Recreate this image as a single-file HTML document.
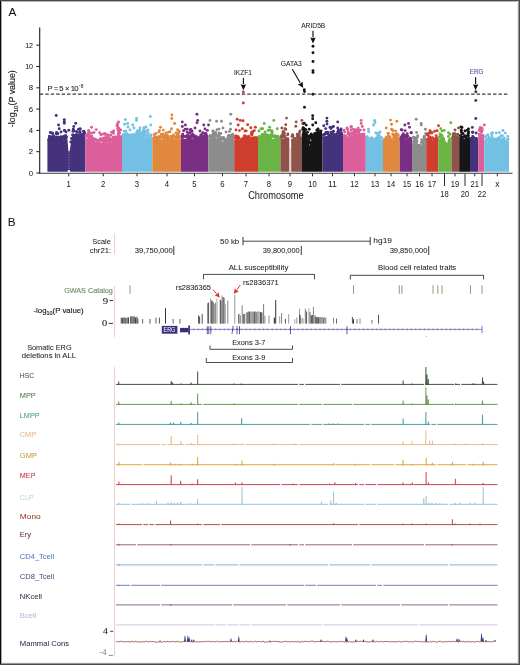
<!DOCTYPE html>
<html><head><meta charset="utf-8"><style>
html,body{margin:0;padding:0;background:#fff;}
svg{display:block;font-family:"Liberation Sans", sans-serif;}
</style></head><body>
<svg width="520" height="665" viewBox="0 0 520 665">
<rect width="520" height="665" fill="#fff"/>
<defs><filter id="soft" filterUnits="userSpaceOnUse" x="0" y="0" width="520" height="665"><feGaussianBlur stdDeviation="0.3"/></filter></defs>
<g filter="url(#soft)">
<rect width="520" height="665" fill="#fff"/>
<g fill="#45307d"><path d="M47.4,171.7 L47.4,140.2 L48.3,138.5 L49.2,139.3 L50.1,137.3 L51.0,138.9 L51.9,138.3 L52.8,137.3 L53.7,138.8 L54.6,137.2 L55.5,138.6 L56.4,137.3 L57.4,137.4 L58.3,138.5 L59.2,139.9 L60.1,137.5 L61.0,137.9 L61.9,139.2 L62.8,140.3 L63.7,139.1 L64.6,138.4 L65.5,140.4 L66.4,137.3 L67.3,140.0 L68.2,137.9 L69.1,137.0 L70.0,136.5 L70.9,137.1 L71.8,138.7 L72.7,136.5 L73.6,137.8 L74.5,137.9 L75.4,136.9 L76.4,137.5 L77.3,135.7 L78.2,135.6 L79.1,136.1 L80.0,137.6 L80.9,136.7 L81.8,136.3 L82.7,137.2 L83.6,136.7 L84.5,136.2 L85.4,137.8 L85.4,171.7 Z"/><circle cx="48.6" cy="139.6" r="1.45"/><circle cx="50.0" cy="138.8" r="1.45"/><circle cx="51.8" cy="139.5" r="1.45"/><circle cx="53.7" cy="138.2" r="1.45"/><circle cx="55.9" cy="137.8" r="1.45"/><circle cx="57.5" cy="139.2" r="1.45"/><circle cx="58.8" cy="138.6" r="1.45"/><circle cx="60.1" cy="139.0" r="1.45"/><circle cx="62.1" cy="138.8" r="1.45"/><circle cx="64.1" cy="138.2" r="1.45"/><circle cx="66.0" cy="138.9" r="1.45"/><circle cx="67.8" cy="138.5" r="1.45"/><circle cx="69.8" cy="138.7" r="1.45"/><circle cx="71.5" cy="137.9" r="1.45"/><circle cx="72.8" cy="137.9" r="1.45"/><circle cx="74.6" cy="138.4" r="1.45"/><circle cx="76.6" cy="136.6" r="1.45"/><circle cx="78.2" cy="137.4" r="1.45"/><circle cx="79.5" cy="136.8" r="1.45"/><circle cx="80.8" cy="135.9" r="1.45"/><circle cx="82.1" cy="137.4" r="1.45"/><circle cx="83.4" cy="136.1" r="1.45"/><circle cx="79.8" cy="135.8" r="1.45"/><circle cx="64.6" cy="136.0" r="1.45"/><circle cx="80.2" cy="132.1" r="1.45"/><circle cx="79.5" cy="135.3" r="1.45"/><circle cx="63.4" cy="136.8" r="1.45"/><circle cx="80.2" cy="128.7" r="1.45"/><circle cx="53.8" cy="137.4" r="1.45"/><circle cx="56.8" cy="137.2" r="1.45"/><circle cx="65.9" cy="135.8" r="1.45"/><circle cx="57.9" cy="137.8" r="1.45"/><circle cx="63.5" cy="136.7" r="1.45"/><circle cx="68.8" cy="130.3" r="1.45"/><circle cx="73.3" cy="134.9" r="1.45"/><circle cx="70.6" cy="134.1" r="1.45"/><circle cx="50.3" cy="132.5" r="1.45"/><circle cx="76.5" cy="131.5" r="1.45"/><circle cx="77.1" cy="135.1" r="1.45"/><circle cx="62.8" cy="137.5" r="1.45"/><circle cx="71.2" cy="136.5" r="1.45"/><circle cx="50.8" cy="137.3" r="1.45"/><circle cx="54.2" cy="136.8" r="1.45"/><circle cx="50.3" cy="137.8" r="1.45"/><circle cx="53.8" cy="137.6" r="1.45"/><circle cx="61.5" cy="137.7" r="1.45"/><circle cx="79.9" cy="133.8" r="1.45"/><circle cx="53.7" cy="137.1" r="1.45"/><circle cx="60.9" cy="136.8" r="1.45"/><circle cx="52.8" cy="133.5" r="1.45"/><circle cx="84.2" cy="134.4" r="1.45"/><circle cx="65.8" cy="137.6" r="1.45"/><circle cx="52.1" cy="136.8" r="1.45"/><circle cx="57.9" cy="133.7" r="1.45"/><circle cx="54.2" cy="137.7" r="1.45"/><circle cx="82.6" cy="134.2" r="1.45"/><circle cx="53.7" cy="136.0" r="1.45"/><circle cx="49.4" cy="136.1" r="1.45"/><circle cx="83.6" cy="131.3" r="1.45"/><circle cx="73.5" cy="135.8" r="1.45"/><circle cx="61.6" cy="137.4" r="1.45"/><circle cx="76.2" cy="134.6" r="1.45"/><circle cx="76.4" cy="135.4" r="1.45"/><circle cx="56.4" cy="134.0" r="1.45"/><circle cx="83.9" cy="131.5" r="1.45"/><circle cx="77.4" cy="132.3" r="1.45"/><circle cx="75.0" cy="135.8" r="1.45"/><circle cx="67.0" cy="136.8" r="1.45"/><circle cx="49.4" cy="137.7" r="1.45"/><circle cx="58.5" cy="137.1" r="1.45"/><circle cx="73.3" cy="129.3" r="1.45"/><circle cx="56.2" cy="115.5" r="1.45"/><circle cx="64.3" cy="119.6" r="1.45"/><circle cx="64.3" cy="121.5" r="1.45"/><circle cx="64.3" cy="123.2" r="1.45"/><circle cx="58.5" cy="125" r="1.45"/><circle cx="59.2" cy="128.8" r="1.45"/><circle cx="64.6" cy="130.4" r="1.45"/><circle cx="75.7" cy="123.2" r="1.45"/><circle cx="73.8" cy="126.5" r="1.45"/><circle cx="78.5" cy="129.3" r="1.45"/><circle cx="80" cy="129.6" r="1.45"/><circle cx="73" cy="131.2" r="1.45"/><circle cx="84.6" cy="132.7" r="1.45"/><circle cx="56.6" cy="132.4" r="1.45"/><circle cx="52" cy="133" r="1.45"/><circle cx="61" cy="132" r="1.45"/></g>
<g fill="#dc5f9b"><path d="M85.4,171.7 L85.4,135.6 L86.3,138.3 L87.2,139.6 L88.1,140.4 L89.1,138.6 L90.0,138.4 L90.9,138.7 L91.8,138.9 L92.7,139.1 L93.6,140.8 L94.6,142.0 L95.5,142.0 L96.4,140.9 L97.3,141.5 L98.2,142.1 L99.1,139.8 L100.0,141.8 L101.0,142.8 L101.9,142.4 L102.8,142.4 L103.7,141.6 L104.6,140.7 L105.5,142.7 L106.4,141.0 L107.4,142.5 L108.3,142.9 L109.2,140.8 L110.1,140.7 L111.0,142.5 L111.9,141.6 L112.8,139.0 L113.8,138.2 L114.7,137.6 L115.6,139.5 L116.5,136.8 L117.4,130.9 L118.3,129.6 L119.3,133.0 L120.2,135.4 L121.1,134.8 L122.0,136.0 L122.0,171.7 Z"/><circle cx="86.6" cy="136.2" r="1.45"/><circle cx="87.8" cy="139.5" r="1.45"/><circle cx="89.7" cy="139.2" r="1.45"/><circle cx="91.8" cy="139.6" r="1.45"/><circle cx="93.9" cy="141.1" r="1.45"/><circle cx="95.3" cy="140.1" r="1.45"/><circle cx="96.8" cy="140.2" r="1.45"/><circle cx="98.6" cy="140.5" r="1.45"/><circle cx="100.2" cy="140.3" r="1.45"/><circle cx="102.3" cy="141.0" r="1.45"/><circle cx="103.9" cy="141.7" r="1.45"/><circle cx="106.1" cy="141.3" r="1.45"/><circle cx="108.2" cy="141.2" r="1.45"/><circle cx="109.9" cy="141.0" r="1.45"/><circle cx="111.1" cy="140.6" r="1.45"/><circle cx="112.5" cy="139.1" r="1.45"/><circle cx="114.5" cy="138.0" r="1.45"/><circle cx="116.2" cy="137.5" r="1.45"/><circle cx="117.9" cy="129.5" r="1.45"/><circle cx="119.7" cy="133.1" r="1.45"/><circle cx="90.1" cy="136.5" r="1.45"/><circle cx="95.0" cy="139.1" r="1.45"/><circle cx="113.1" cy="137.3" r="1.45"/><circle cx="105.8" cy="137.4" r="1.45"/><circle cx="118.0" cy="127.6" r="1.45"/><circle cx="107.6" cy="138.8" r="1.45"/><circle cx="104.1" cy="138.0" r="1.45"/><circle cx="102.1" cy="138.8" r="1.45"/><circle cx="102.9" cy="134.1" r="1.45"/><circle cx="110.6" cy="135.2" r="1.45"/><circle cx="119.0" cy="128.4" r="1.45"/><circle cx="105.8" cy="134.1" r="1.45"/><circle cx="115.5" cy="136.9" r="1.45"/><circle cx="90.6" cy="137.2" r="1.45"/><circle cx="88.9" cy="137.4" r="1.45"/><circle cx="88.9" cy="135.5" r="1.45"/><circle cx="113.5" cy="133.4" r="1.45"/><circle cx="91.7" cy="136.0" r="1.45"/><circle cx="109.2" cy="139.8" r="1.45"/><circle cx="116.9" cy="125.5" r="1.45"/><circle cx="94.0" cy="132.5" r="1.45"/><circle cx="100.2" cy="138.8" r="1.45"/><circle cx="120.6" cy="130.0" r="1.45"/><circle cx="92.0" cy="137.6" r="1.45"/><circle cx="104.2" cy="139.8" r="1.45"/><circle cx="93.2" cy="138.4" r="1.45"/><circle cx="111.4" cy="139.8" r="1.45"/><circle cx="105.6" cy="139.4" r="1.45"/><circle cx="87.0" cy="135.7" r="1.45"/><circle cx="108.0" cy="138.7" r="1.45"/><circle cx="88.6" cy="130.5" r="1.45"/><circle cx="113.7" cy="131.0" r="1.45"/><circle cx="90.0" cy="137.7" r="1.45"/><circle cx="87.8" cy="134.1" r="1.45"/><circle cx="95.8" cy="139.6" r="1.45"/><circle cx="101.0" cy="134.8" r="1.45"/><circle cx="114.7" cy="137.1" r="1.45"/><circle cx="91.6" cy="133.0" r="1.45"/><circle cx="106.1" cy="137.9" r="1.45"/><circle cx="89.5" cy="138.1" r="1.45"/><circle cx="110.2" cy="138.8" r="1.45"/><circle cx="88.9" cy="131.7" r="1.45"/><circle cx="108.4" cy="136.6" r="1.45"/><circle cx="89.3" cy="133.7" r="1.45"/><circle cx="88.7" cy="133.4" r="1.45"/><circle cx="102.1" cy="139.6" r="1.45"/><circle cx="105.5" cy="134.7" r="1.45"/><circle cx="91.5" cy="127.3" r="1.45"/><circle cx="96.2" cy="129.6" r="1.45"/><circle cx="99.7" cy="132.7" r="1.45"/><circle cx="104.6" cy="133.5" r="1.45"/><circle cx="111.5" cy="132.4" r="1.45"/><circle cx="117.7" cy="123.5" r="1.45"/><circle cx="118.5" cy="122" r="1.45"/><circle cx="117.5" cy="126" r="1.45"/><circle cx="118" cy="129" r="1.45"/><circle cx="112.3" cy="132" r="1.45"/><circle cx="119" cy="131" r="1.45"/><circle cx="89" cy="133" r="1.45"/><circle cx="108" cy="135" r="1.45"/></g>
<g fill="#72c0e4"><path d="M122.0,171.7 L122.0,135.5 L122.9,135.0 L123.8,136.4 L124.8,135.4 L125.7,135.0 L126.6,135.1 L127.5,134.8 L128.4,135.3 L129.3,135.7 L130.3,135.6 L131.2,137.2 L132.1,135.6 L133.0,136.3 L133.9,135.2 L134.9,135.8 L135.8,134.7 L136.7,135.5 L137.6,134.7 L138.5,137.1 L139.4,136.5 L140.4,135.2 L141.3,136.2 L142.2,137.8 L143.1,135.0 L144.0,137.4 L145.0,136.1 L145.9,136.3 L146.8,137.4 L147.7,135.9 L148.6,136.3 L149.5,136.9 L150.5,137.9 L151.4,135.8 L152.3,137.4 L152.3,171.7 Z"/><circle cx="123.2" cy="136.6" r="1.45"/><circle cx="125.0" cy="135.9" r="1.45"/><circle cx="126.6" cy="135.1" r="1.45"/><circle cx="127.9" cy="135.2" r="1.45"/><circle cx="129.9" cy="135.6" r="1.45"/><circle cx="131.2" cy="135.2" r="1.45"/><circle cx="133.3" cy="137.0" r="1.45"/><circle cx="135.1" cy="135.6" r="1.45"/><circle cx="136.6" cy="135.7" r="1.45"/><circle cx="138.2" cy="135.4" r="1.45"/><circle cx="139.9" cy="135.6" r="1.45"/><circle cx="142.0" cy="137.2" r="1.45"/><circle cx="143.8" cy="135.6" r="1.45"/><circle cx="146.0" cy="135.7" r="1.45"/><circle cx="147.5" cy="135.0" r="1.45"/><circle cx="149.1" cy="136.1" r="1.45"/><circle cx="150.8" cy="135.5" r="1.45"/><circle cx="123.1" cy="134.6" r="1.45"/><circle cx="125.5" cy="134.1" r="1.45"/><circle cx="124.2" cy="135.2" r="1.45"/><circle cx="131.6" cy="134.7" r="1.45"/><circle cx="139.6" cy="133.6" r="1.45"/><circle cx="144.2" cy="132.8" r="1.45"/><circle cx="143.3" cy="130.4" r="1.45"/><circle cx="134.0" cy="134.4" r="1.45"/><circle cx="150.9" cy="134.9" r="1.45"/><circle cx="143.5" cy="132.9" r="1.45"/><circle cx="124.2" cy="131.2" r="1.45"/><circle cx="148.2" cy="133.0" r="1.45"/><circle cx="143.8" cy="131.5" r="1.45"/><circle cx="126.9" cy="133.6" r="1.45"/><circle cx="137.3" cy="131.2" r="1.45"/><circle cx="145.8" cy="131.3" r="1.45"/><circle cx="139.5" cy="130.2" r="1.45"/><circle cx="142.3" cy="132.6" r="1.45"/><circle cx="129.5" cy="135.2" r="1.45"/><circle cx="126.8" cy="134.3" r="1.45"/><circle cx="126.0" cy="131.1" r="1.45"/><circle cx="138.8" cy="133.0" r="1.45"/><circle cx="140.7" cy="132.7" r="1.45"/><circle cx="136.8" cy="135.3" r="1.45"/><circle cx="145.6" cy="132.1" r="1.45"/><circle cx="137.2" cy="133.5" r="1.45"/><circle cx="141.7" cy="135.1" r="1.45"/><circle cx="143.9" cy="134.6" r="1.45"/><circle cx="125.1" cy="134.6" r="1.45"/><circle cx="143.6" cy="134.8" r="1.45"/><circle cx="143.9" cy="127.8" r="1.45"/><circle cx="137.0" cy="134.2" r="1.45"/><circle cx="136.6" cy="132.7" r="1.45"/><circle cx="144.7" cy="133.1" r="1.45"/><circle cx="141.2" cy="135.1" r="1.45"/><circle cx="127.2" cy="134.6" r="1.45"/><circle cx="144.0" cy="134.5" r="1.45"/><circle cx="139.1" cy="135.3" r="1.45"/><circle cx="124.7" cy="134.6" r="1.45"/><circle cx="125.4" cy="119.6" r="1.45"/><circle cx="136.5" cy="118.5" r="1.45"/><circle cx="136.5" cy="120.4" r="1.45"/><circle cx="150.3" cy="116.5" r="1.45"/><circle cx="132.8" cy="125" r="1.45"/><circle cx="150.8" cy="125" r="1.45"/><circle cx="124.6" cy="124.2" r="1.45"/><circle cx="127.7" cy="123.5" r="1.45"/><circle cx="128" cy="127" r="1.45"/><circle cx="140" cy="128" r="1.45"/><circle cx="144" cy="129" r="1.45"/><circle cx="148" cy="130" r="1.45"/><circle cx="130" cy="130" r="1.45"/><circle cx="134" cy="128" r="1.45"/><circle cx="138" cy="131" r="1.45"/><circle cx="146" cy="127" r="1.45"/></g>
<g fill="#e0883e"><path d="M152.3,171.7 L152.3,138.9 L153.2,139.0 L154.2,138.9 L155.1,137.6 L156.0,138.4 L156.9,138.2 L157.9,138.2 L158.8,137.0 L159.7,139.6 L160.6,137.3 L161.6,139.9 L162.5,139.8 L163.4,136.7 L164.3,138.2 L165.3,139.4 L166.2,139.9 L167.1,138.1 L168.0,137.5 L169.0,137.3 L169.9,139.8 L170.8,137.3 L171.7,138.6 L172.7,137.1 L173.6,138.4 L174.5,139.8 L175.4,137.1 L176.4,139.4 L177.3,138.3 L178.2,139.6 L179.1,139.0 L180.1,137.4 L181.0,139.7 L181.0,171.7 Z"/><circle cx="153.5" cy="138.1" r="1.45"/><circle cx="154.7" cy="137.0" r="1.45"/><circle cx="156.4" cy="138.0" r="1.45"/><circle cx="157.9" cy="137.3" r="1.45"/><circle cx="159.5" cy="137.7" r="1.45"/><circle cx="161.5" cy="137.0" r="1.45"/><circle cx="163.5" cy="138.9" r="1.45"/><circle cx="164.8" cy="139.1" r="1.45"/><circle cx="166.7" cy="139.1" r="1.45"/><circle cx="168.2" cy="137.9" r="1.45"/><circle cx="169.8" cy="139.3" r="1.45"/><circle cx="171.6" cy="137.8" r="1.45"/><circle cx="173.2" cy="137.6" r="1.45"/><circle cx="174.4" cy="137.2" r="1.45"/><circle cx="176.5" cy="137.7" r="1.45"/><circle cx="178.6" cy="137.6" r="1.45"/><circle cx="166.9" cy="136.8" r="1.45"/><circle cx="163.3" cy="130.1" r="1.45"/><circle cx="176.9" cy="133.5" r="1.45"/><circle cx="170.1" cy="131.7" r="1.45"/><circle cx="178.4" cy="135.5" r="1.45"/><circle cx="172.5" cy="137.2" r="1.45"/><circle cx="172.9" cy="135.9" r="1.45"/><circle cx="173.4" cy="134.9" r="1.45"/><circle cx="160.9" cy="137.2" r="1.45"/><circle cx="178.0" cy="137.0" r="1.45"/><circle cx="165.9" cy="136.3" r="1.45"/><circle cx="161.3" cy="134.2" r="1.45"/><circle cx="179.4" cy="136.6" r="1.45"/><circle cx="170.8" cy="136.5" r="1.45"/><circle cx="168.2" cy="136.1" r="1.45"/><circle cx="157.8" cy="136.9" r="1.45"/><circle cx="158.9" cy="131.9" r="1.45"/><circle cx="166.6" cy="136.7" r="1.45"/><circle cx="177.5" cy="129.8" r="1.45"/><circle cx="165.3" cy="137.0" r="1.45"/><circle cx="158.4" cy="137.1" r="1.45"/><circle cx="162.4" cy="137.1" r="1.45"/><circle cx="159.7" cy="136.6" r="1.45"/><circle cx="168.5" cy="132.3" r="1.45"/><circle cx="173.3" cy="136.1" r="1.45"/><circle cx="164.4" cy="135.6" r="1.45"/><circle cx="163.4" cy="136.4" r="1.45"/><circle cx="155.0" cy="136.6" r="1.45"/><circle cx="179.1" cy="137.0" r="1.45"/><circle cx="166.7" cy="135.0" r="1.45"/><circle cx="176.3" cy="136.7" r="1.45"/><circle cx="160.5" cy="136.6" r="1.45"/><circle cx="164.0" cy="135.9" r="1.45"/><circle cx="178.8" cy="133.0" r="1.45"/><circle cx="176.6" cy="137.2" r="1.45"/><circle cx="154.2" cy="134.5" r="1.45"/><circle cx="177.2" cy="135.8" r="1.45"/><circle cx="171.8" cy="115" r="1.45"/><circle cx="171.8" cy="118.5" r="1.45"/><circle cx="174.6" cy="123.5" r="1.45"/><circle cx="171.5" cy="128.8" r="1.45"/><circle cx="160.5" cy="127.3" r="1.45"/><circle cx="159.5" cy="130.4" r="1.45"/><circle cx="156" cy="133.5" r="1.45"/><circle cx="179.2" cy="131.2" r="1.45"/><circle cx="166" cy="133" r="1.45"/><circle cx="176" cy="133" r="1.45"/><circle cx="163" cy="134" r="1.45"/></g>
<g fill="#7a2e84"><path d="M181.0,171.7 L181.0,137.9 L181.9,135.9 L182.8,137.2 L183.8,139.1 L184.7,138.7 L185.6,138.8 L186.5,139.2 L187.4,136.7 L188.3,136.3 L189.2,136.4 L190.2,137.7 L191.1,138.2 L192.0,139.1 L192.9,138.4 L193.8,138.1 L194.8,138.5 L195.7,137.5 L196.6,137.8 L197.5,136.0 L198.4,138.6 L199.3,136.7 L200.2,139.0 L201.2,138.1 L202.1,136.9 L203.0,136.3 L203.9,136.8 L204.8,138.1 L205.8,138.3 L206.7,136.3 L207.6,136.1 L208.5,137.7 L208.5,171.7 Z"/><circle cx="182.2" cy="137.6" r="1.45"/><circle cx="183.8" cy="136.8" r="1.45"/><circle cx="185.6" cy="136.3" r="1.45"/><circle cx="187.1" cy="137.4" r="1.45"/><circle cx="189.2" cy="137.8" r="1.45"/><circle cx="191.3" cy="137.4" r="1.45"/><circle cx="192.8" cy="136.9" r="1.45"/><circle cx="194.9" cy="137.9" r="1.45"/><circle cx="196.4" cy="136.4" r="1.45"/><circle cx="198.1" cy="137.9" r="1.45"/><circle cx="199.8" cy="136.9" r="1.45"/><circle cx="201.6" cy="138.4" r="1.45"/><circle cx="203.0" cy="136.4" r="1.45"/><circle cx="204.6" cy="137.3" r="1.45"/><circle cx="206.5" cy="136.8" r="1.45"/><circle cx="200.8" cy="135.0" r="1.45"/><circle cx="187.2" cy="129.1" r="1.45"/><circle cx="189.9" cy="132.7" r="1.45"/><circle cx="187.9" cy="136.0" r="1.45"/><circle cx="201.4" cy="135.8" r="1.45"/><circle cx="206.3" cy="135.0" r="1.45"/><circle cx="186.8" cy="136.0" r="1.45"/><circle cx="192.6" cy="134.1" r="1.45"/><circle cx="206.2" cy="136.2" r="1.45"/><circle cx="192.0" cy="136.0" r="1.45"/><circle cx="206.8" cy="136.2" r="1.45"/><circle cx="183.3" cy="136.5" r="1.45"/><circle cx="192.0" cy="131.3" r="1.45"/><circle cx="204.5" cy="133.6" r="1.45"/><circle cx="207.4" cy="130.4" r="1.45"/><circle cx="190.4" cy="136.1" r="1.45"/><circle cx="205.9" cy="133.4" r="1.45"/><circle cx="182.8" cy="134.1" r="1.45"/><circle cx="191.7" cy="135.5" r="1.45"/><circle cx="190.5" cy="136.2" r="1.45"/><circle cx="182.1" cy="135.8" r="1.45"/><circle cx="191.0" cy="129.4" r="1.45"/><circle cx="185.2" cy="129.1" r="1.45"/><circle cx="187.3" cy="135.6" r="1.45"/><circle cx="203.0" cy="132.6" r="1.45"/><circle cx="193.0" cy="136.5" r="1.45"/><circle cx="194.1" cy="135.5" r="1.45"/><circle cx="205.4" cy="136.1" r="1.45"/><circle cx="191.3" cy="131.4" r="1.45"/><circle cx="182.8" cy="135.4" r="1.45"/><circle cx="202.7" cy="133.3" r="1.45"/><circle cx="183.0" cy="136.5" r="1.45"/><circle cx="183.6" cy="130.8" r="1.45"/><circle cx="188.6" cy="133.4" r="1.45"/><circle cx="204.9" cy="135.6" r="1.45"/><circle cx="196.9" cy="114.2" r="1.45"/><circle cx="197.7" cy="120.4" r="1.45"/><circle cx="197" cy="122.7" r="1.45"/><circle cx="182.3" cy="121.9" r="1.45"/><circle cx="203.8" cy="125" r="1.45"/><circle cx="208.5" cy="125" r="1.45"/><circle cx="182.3" cy="126.5" r="1.45"/><circle cx="185.4" cy="125" r="1.45"/><circle cx="195" cy="128" r="1.45"/><circle cx="190" cy="130" r="1.45"/><circle cx="200" cy="131" r="1.45"/><circle cx="205" cy="129" r="1.45"/><circle cx="187" cy="132" r="1.45"/></g>
<g fill="#8c8c8c"><path d="M208.5,171.7 L208.5,137.0 L209.4,139.2 L210.3,137.9 L211.3,136.6 L212.2,138.0 L213.1,136.5 L214.0,136.2 L214.9,135.1 L215.8,137.8 L216.8,138.6 L217.7,137.8 L218.6,139.0 L219.5,136.1 L220.4,137.2 L221.3,138.8 L222.3,141.2 L223.2,141.9 L224.1,140.7 L225.0,140.9 L225.9,140.8 L226.9,140.3 L227.8,141.0 L228.7,137.8 L229.6,139.1 L230.5,138.5 L231.4,138.6 L232.4,138.2 L233.3,137.4 L234.2,136.2 L234.2,171.7 Z"/><circle cx="209.7" cy="137.1" r="1.45"/><circle cx="211.3" cy="137.9" r="1.45"/><circle cx="212.5" cy="136.3" r="1.45"/><circle cx="214.5" cy="136.1" r="1.45"/><circle cx="215.8" cy="135.7" r="1.45"/><circle cx="217.5" cy="136.8" r="1.45"/><circle cx="219.7" cy="138.5" r="1.45"/><circle cx="221.9" cy="138.6" r="1.45"/><circle cx="223.2" cy="139.3" r="1.45"/><circle cx="224.9" cy="142.0" r="1.45"/><circle cx="226.5" cy="139.8" r="1.45"/><circle cx="228.1" cy="139.4" r="1.45"/><circle cx="230.0" cy="138.2" r="1.45"/><circle cx="232.0" cy="137.5" r="1.45"/><circle cx="229.4" cy="136.5" r="1.45"/><circle cx="222.9" cy="138.1" r="1.45"/><circle cx="227.0" cy="138.7" r="1.45"/><circle cx="215.4" cy="135.2" r="1.45"/><circle cx="213.1" cy="131.1" r="1.45"/><circle cx="223.2" cy="138.5" r="1.45"/><circle cx="218.9" cy="129.1" r="1.45"/><circle cx="221.5" cy="137.4" r="1.45"/><circle cx="228.7" cy="135.4" r="1.45"/><circle cx="233.0" cy="135.8" r="1.45"/><circle cx="220.8" cy="133.5" r="1.45"/><circle cx="229.4" cy="131.6" r="1.45"/><circle cx="210.5" cy="135.7" r="1.45"/><circle cx="212.3" cy="135.7" r="1.45"/><circle cx="232.6" cy="134.2" r="1.45"/><circle cx="231.5" cy="135.4" r="1.45"/><circle cx="230.0" cy="135.4" r="1.45"/><circle cx="215.7" cy="132.5" r="1.45"/><circle cx="231.9" cy="136.1" r="1.45"/><circle cx="223.6" cy="137.5" r="1.45"/><circle cx="214.7" cy="134.8" r="1.45"/><circle cx="212.9" cy="135.6" r="1.45"/><circle cx="215.5" cy="133.8" r="1.45"/><circle cx="224.9" cy="140.2" r="1.45"/><circle cx="209.8" cy="135.7" r="1.45"/><circle cx="225.6" cy="139.9" r="1.45"/><circle cx="216.9" cy="135.7" r="1.45"/><circle cx="228.3" cy="136.3" r="1.45"/><circle cx="211.0" cy="136.2" r="1.45"/><circle cx="218.9" cy="134.7" r="1.45"/><circle cx="224.6" cy="140.3" r="1.45"/><circle cx="213.4" cy="133.3" r="1.45"/><circle cx="219.2" cy="135.9" r="1.45"/><circle cx="230.8" cy="114.2" r="1.45"/><circle cx="210" cy="120.4" r="1.45"/><circle cx="216.6" cy="121.2" r="1.45"/><circle cx="221.5" cy="121.2" r="1.45"/><circle cx="230.5" cy="123.8" r="1.45"/><circle cx="230.5" cy="129.3" r="1.45"/><circle cx="217" cy="129.6" r="1.45"/><circle cx="223" cy="128" r="1.45"/><circle cx="213" cy="131" r="1.45"/><circle cx="226" cy="132" r="1.45"/><circle cx="219" cy="133" r="1.45"/></g>
<g fill="#cf3d2e"><path d="M234.2,171.7 L234.2,138.4 L235.1,140.6 L236.0,138.5 L236.9,139.3 L237.8,138.6 L238.7,138.8 L239.6,140.3 L240.5,140.8 L241.4,138.6 L242.3,138.1 L243.2,139.9 L244.1,138.1 L245.0,137.4 L245.9,140.5 L246.8,138.8 L247.7,140.2 L248.6,138.8 L249.5,140.4 L250.4,139.0 L251.3,138.0 L252.2,137.5 L253.1,139.3 L254.0,139.6 L254.9,140.5 L255.8,137.7 L256.7,139.5 L257.6,138.7 L258.5,139.1 L258.5,171.7 Z"/><circle cx="235.4" cy="138.1" r="1.45"/><circle cx="236.9" cy="139.0" r="1.45"/><circle cx="239.0" cy="138.1" r="1.45"/><circle cx="240.7" cy="139.7" r="1.45"/><circle cx="242.9" cy="138.3" r="1.45"/><circle cx="244.2" cy="140.0" r="1.45"/><circle cx="246.4" cy="138.9" r="1.45"/><circle cx="247.6" cy="139.9" r="1.45"/><circle cx="249.2" cy="139.9" r="1.45"/><circle cx="251.0" cy="139.7" r="1.45"/><circle cx="252.4" cy="139.6" r="1.45"/><circle cx="253.8" cy="138.7" r="1.45"/><circle cx="255.9" cy="139.7" r="1.45"/><circle cx="257.2" cy="138.3" r="1.45"/><circle cx="246.7" cy="137.0" r="1.45"/><circle cx="237.9" cy="137.4" r="1.45"/><circle cx="251.4" cy="132.9" r="1.45"/><circle cx="236.1" cy="136.2" r="1.45"/><circle cx="252.1" cy="138.0" r="1.45"/><circle cx="253.9" cy="137.8" r="1.45"/><circle cx="248.6" cy="136.3" r="1.45"/><circle cx="249.2" cy="137.3" r="1.45"/><circle cx="244.6" cy="136.1" r="1.45"/><circle cx="244.7" cy="135.6" r="1.45"/><circle cx="245.2" cy="136.8" r="1.45"/><circle cx="235.7" cy="135.9" r="1.45"/><circle cx="246.1" cy="137.5" r="1.45"/><circle cx="252.2" cy="134.6" r="1.45"/><circle cx="245.4" cy="137.6" r="1.45"/><circle cx="245.8" cy="137.8" r="1.45"/><circle cx="238.1" cy="136.8" r="1.45"/><circle cx="237.2" cy="136.8" r="1.45"/><circle cx="246.6" cy="138.0" r="1.45"/><circle cx="249.4" cy="137.9" r="1.45"/><circle cx="251.6" cy="134.6" r="1.45"/><circle cx="246.6" cy="138.0" r="1.45"/><circle cx="246.4" cy="137.0" r="1.45"/><circle cx="256.4" cy="137.8" r="1.45"/><circle cx="254.3" cy="130.6" r="1.45"/><circle cx="251.5" cy="134.2" r="1.45"/><circle cx="239.5" cy="130.6" r="1.45"/><circle cx="246.2" cy="130.9" r="1.45"/><circle cx="255.6" cy="137.7" r="1.45"/><circle cx="252.8" cy="132.0" r="1.45"/><circle cx="236.7" cy="137.1" r="1.45"/><circle cx="237.2" cy="119.2" r="1.45"/><circle cx="240.3" cy="120.4" r="1.45"/><circle cx="243" cy="120.7" r="1.45"/><circle cx="247.7" cy="124.7" r="1.45"/><circle cx="238.2" cy="125" r="1.45"/><circle cx="250.8" cy="127.8" r="1.45"/><circle cx="255.4" cy="127.3" r="1.45"/><circle cx="242.3" cy="128.8" r="1.45"/><circle cx="236" cy="130" r="1.45"/><circle cx="245" cy="131" r="1.45"/><circle cx="252" cy="132" r="1.45"/><circle cx="243.3" cy="92" r="1.45"/><circle cx="243.3" cy="103" r="1.45"/></g>
<g fill="#6cb444"><path d="M258.0,171.7 L258.0,138.7 L258.9,136.6 L259.9,139.1 L260.8,137.0 L261.7,138.9 L262.7,136.6 L263.6,137.8 L264.5,139.2 L265.5,136.8 L266.4,137.0 L267.3,137.8 L268.3,137.2 L269.2,136.2 L270.1,136.7 L271.1,136.6 L272.0,139.3 L272.9,138.4 L273.9,139.1 L274.8,136.7 L275.7,138.8 L276.7,136.5 L277.6,137.9 L278.5,138.3 L279.5,137.3 L280.4,139.1 L280.4,171.7 Z"/><circle cx="259.2" cy="137.8" r="1.45"/><circle cx="261.0" cy="138.5" r="1.45"/><circle cx="262.3" cy="138.8" r="1.45"/><circle cx="264.1" cy="137.4" r="1.45"/><circle cx="266.1" cy="137.1" r="1.45"/><circle cx="268.3" cy="137.8" r="1.45"/><circle cx="269.9" cy="138.3" r="1.45"/><circle cx="271.5" cy="136.9" r="1.45"/><circle cx="273.4" cy="136.6" r="1.45"/><circle cx="275.5" cy="137.1" r="1.45"/><circle cx="277.3" cy="138.8" r="1.45"/><circle cx="279.1" cy="138.0" r="1.45"/><circle cx="259.0" cy="136.7" r="1.45"/><circle cx="262.0" cy="134.6" r="1.45"/><circle cx="267.8" cy="135.1" r="1.45"/><circle cx="277.3" cy="136.5" r="1.45"/><circle cx="263.6" cy="134.4" r="1.45"/><circle cx="259.5" cy="136.8" r="1.45"/><circle cx="266.2" cy="136.5" r="1.45"/><circle cx="266.3" cy="136.2" r="1.45"/><circle cx="270.9" cy="134.8" r="1.45"/><circle cx="263.2" cy="134.6" r="1.45"/><circle cx="268.7" cy="136.5" r="1.45"/><circle cx="278.1" cy="136.2" r="1.45"/><circle cx="262.0" cy="136.6" r="1.45"/><circle cx="272.0" cy="132.1" r="1.45"/><circle cx="275.0" cy="135.6" r="1.45"/><circle cx="264.4" cy="136.8" r="1.45"/><circle cx="272.2" cy="134.9" r="1.45"/><circle cx="266.1" cy="134.4" r="1.45"/><circle cx="268.1" cy="130.4" r="1.45"/><circle cx="274.0" cy="136.1" r="1.45"/><circle cx="277.4" cy="136.7" r="1.45"/><circle cx="269.8" cy="135.6" r="1.45"/><circle cx="263.8" cy="136.7" r="1.45"/><circle cx="274.9" cy="136.8" r="1.45"/><circle cx="270.2" cy="130.3" r="1.45"/><circle cx="261.9" cy="136.3" r="1.45"/><circle cx="271.4" cy="135.2" r="1.45"/><circle cx="272.1" cy="132.9" r="1.45"/><circle cx="262.6" cy="135.9" r="1.45"/><circle cx="273.8" cy="120.4" r="1.45"/><circle cx="264.2" cy="123.5" r="1.45"/><circle cx="261.2" cy="128.8" r="1.45"/><circle cx="262.7" cy="128.8" r="1.45"/><circle cx="269.6" cy="127.3" r="1.45"/><circle cx="277.3" cy="128.8" r="1.45"/><circle cx="265" cy="132" r="1.45"/><circle cx="272" cy="131" r="1.45"/><circle cx="259" cy="131" r="1.45"/></g>
<g fill="#905248"><path d="M280.4,171.7 L280.4,136.6 L281.4,135.9 L282.4,138.8 L283.4,138.6 L284.4,138.5 L285.3,136.2 L286.3,139.1 L287.3,138.9 L288.3,138.1 L289.3,139.1 L289.3,171.7 Z"/><circle cx="281.6" cy="137.2" r="1.45"/><circle cx="283.0" cy="136.5" r="1.45"/><circle cx="284.5" cy="136.5" r="1.45"/><circle cx="286.0" cy="138.4" r="1.45"/><circle cx="287.9" cy="138.8" r="1.45"/><circle cx="283.2" cy="134.8" r="1.45"/><circle cx="284.4" cy="133.2" r="1.45"/><circle cx="285.0" cy="136.1" r="1.45"/><circle cx="285.8" cy="129.4" r="1.45"/><circle cx="282.9" cy="131.7" r="1.45"/><circle cx="281.5" cy="135.7" r="1.45"/><circle cx="283.0" cy="133.5" r="1.45"/><circle cx="287.9" cy="134.0" r="1.45"/><circle cx="283.7" cy="131.8" r="1.45"/><circle cx="283.7" cy="136.0" r="1.45"/><circle cx="287.7" cy="134.8" r="1.45"/><path d="M291.2,171.7 L291.2,141.0 L292.1,140.8 L293.1,141.7 L294.0,139.9 L295.0,141.1 L295.9,140.5 L296.9,141.0 L297.8,139.5 L298.8,140.3 L299.7,139.7 L300.7,138.7 L301.6,138.3 L301.6,171.7 Z"/><circle cx="292.4" cy="140.3" r="1.45"/><circle cx="293.7" cy="140.9" r="1.45"/><circle cx="295.0" cy="138.7" r="1.45"/><circle cx="296.3" cy="140.6" r="1.45"/><circle cx="297.9" cy="138.7" r="1.45"/><circle cx="299.1" cy="138.3" r="1.45"/><circle cx="297.5" cy="135.9" r="1.45"/><circle cx="298.4" cy="138.5" r="1.45"/><circle cx="297.2" cy="137.7" r="1.45"/><circle cx="299.1" cy="134.6" r="1.45"/><circle cx="299.7" cy="138.3" r="1.45"/><circle cx="299.5" cy="132.8" r="1.45"/><circle cx="300.1" cy="138.2" r="1.45"/><circle cx="293.9" cy="138.8" r="1.45"/><circle cx="292.5" cy="134.8" r="1.45"/><circle cx="299.0" cy="136.2" r="1.45"/><circle cx="299.1" cy="136.2" r="1.45"/><circle cx="294.6" cy="138.7" r="1.45"/><circle cx="293.0" cy="135.9" r="1.45"/><rect x="289.9" y="148.0" width="0.6" height="24" opacity="0.5"/><circle cx="286.5" cy="118.1" r="1.45"/><circle cx="285.8" cy="124.7" r="1.45"/><circle cx="296.2" cy="121.9" r="1.45"/><circle cx="295.8" cy="126.2" r="1.45"/><circle cx="301.9" cy="120.4" r="1.45"/><circle cx="302.7" cy="123.8" r="1.45"/><circle cx="281.9" cy="128" r="1.45"/><circle cx="285" cy="128.8" r="1.45"/><circle cx="292" cy="136.5" r="1.45"/><circle cx="297.3" cy="134.2" r="1.45"/><circle cx="300" cy="131" r="1.45"/></g>
<g fill="#161616"><path d="M301.6,171.7 L301.6,134.8 L302.5,131.0 L303.4,129.0 L304.3,127.7 L305.2,129.3 L306.1,132.8 L307.0,137.6 L307.9,139.2 L308.8,141.8 L309.7,146.0 L310.6,141.8 L311.5,140.3 L312.5,137.8 L313.4,135.0 L314.3,135.5 L315.2,134.8 L316.1,135.2 L317.0,133.8 L317.9,135.0 L318.8,134.4 L319.7,133.3 L320.6,135.5 L321.5,132.9 L322.4,135.4 L322.4,171.7 Z"/><circle cx="302.8" cy="129.3" r="1.45"/><circle cx="304.0" cy="128.5" r="1.45"/><circle cx="306.0" cy="133.9" r="1.45"/><circle cx="307.2" cy="137.1" r="1.45"/><circle cx="308.9" cy="143.1" r="1.45"/><circle cx="310.2" cy="142.8" r="1.45"/><circle cx="311.8" cy="139.0" r="1.45"/><circle cx="313.3" cy="137.6" r="1.45"/><circle cx="314.7" cy="134.6" r="1.45"/><circle cx="316.6" cy="134.1" r="1.45"/><circle cx="317.9" cy="134.5" r="1.45"/><circle cx="319.2" cy="134.8" r="1.45"/><circle cx="321.1" cy="134.8" r="1.45"/><circle cx="309.3" cy="141.7" r="1.45"/><circle cx="310.0" cy="137.5" r="1.45"/><circle cx="304.2" cy="123.3" r="1.45"/><circle cx="303.1" cy="127.8" r="1.45"/><circle cx="307.5" cy="132.2" r="1.45"/><circle cx="312.0" cy="135.7" r="1.45"/><circle cx="319.2" cy="132.7" r="1.45"/><circle cx="311.3" cy="137.2" r="1.45"/><circle cx="316.8" cy="130.1" r="1.45"/><circle cx="314.8" cy="133.4" r="1.45"/><circle cx="308.7" cy="140.8" r="1.45"/><circle cx="318.5" cy="130.8" r="1.45"/><circle cx="316.5" cy="132.9" r="1.45"/><circle cx="310.8" cy="136.7" r="1.45"/><circle cx="313.5" cy="135.2" r="1.45"/><circle cx="311.3" cy="133.9" r="1.45"/><circle cx="307.1" cy="135.5" r="1.45"/><circle cx="308.3" cy="136.9" r="1.45"/><circle cx="318.5" cy="132.9" r="1.45"/><circle cx="305.5" cy="129.6" r="1.45"/><circle cx="308.7" cy="139.5" r="1.45"/><circle cx="305.6" cy="129.7" r="1.45"/><circle cx="306.2" cy="125.1" r="1.45"/><circle cx="316.3" cy="133.1" r="1.45"/><circle cx="320.7" cy="133.1" r="1.45"/><circle cx="309.8" cy="135.6" r="1.45"/><circle cx="317.5" cy="130.3" r="1.45"/><circle cx="304.5" cy="107.3" r="1.45"/><circle cx="312.7" cy="115.8" r="1.45"/><circle cx="312.7" cy="118.8" r="1.45"/><circle cx="315.8" cy="122.7" r="1.45"/><circle cx="312.7" cy="125" r="1.45"/><circle cx="309.2" cy="129.3" r="1.45"/><circle cx="321" cy="131" r="1.45"/><circle cx="318" cy="129" r="1.45"/><circle cx="313" cy="46.2" r="1.45"/><circle cx="313" cy="52.8" r="1.45"/><circle cx="313" cy="61.5" r="1.45"/><circle cx="313" cy="70.6" r="1.45"/><circle cx="313" cy="72.4" r="1.45"/><circle cx="312.9" cy="94.2" r="1.45"/><circle cx="304.3" cy="89.8" r="1.45"/><circle cx="304.5" cy="91.6" r="1.45"/></g>
<g fill="#45307d"><path d="M322.4,171.7 L322.4,137.1 L323.3,136.2 L324.3,137.6 L325.2,135.8 L326.1,136.1 L327.1,136.6 L328.0,135.3 L329.0,136.5 L329.9,137.8 L330.8,137.0 L331.8,135.9 L332.7,135.9 L333.6,134.9 L334.6,133.3 L335.5,134.4 L336.4,133.4 L337.4,134.4 L338.3,134.9 L339.3,133.1 L340.2,133.5 L341.1,133.9 L342.1,132.7 L343.0,131.9 L343.0,171.7 Z"/><circle cx="323.6" cy="137.6" r="1.45"/><circle cx="325.7" cy="137.6" r="1.45"/><circle cx="327.6" cy="137.6" r="1.45"/><circle cx="329.5" cy="137.0" r="1.45"/><circle cx="331.1" cy="135.7" r="1.45"/><circle cx="332.9" cy="134.3" r="1.45"/><circle cx="334.6" cy="135.0" r="1.45"/><circle cx="336.5" cy="133.9" r="1.45"/><circle cx="337.9" cy="133.2" r="1.45"/><circle cx="339.6" cy="133.4" r="1.45"/><circle cx="341.2" cy="133.3" r="1.45"/><circle cx="326.8" cy="133.6" r="1.45"/><circle cx="337.9" cy="131.4" r="1.45"/><circle cx="332.5" cy="127.0" r="1.45"/><circle cx="324.1" cy="134.4" r="1.45"/><circle cx="326.4" cy="132.5" r="1.45"/><circle cx="340.9" cy="130.4" r="1.45"/><circle cx="325.3" cy="134.1" r="1.45"/><circle cx="333.5" cy="131.2" r="1.45"/><circle cx="332.9" cy="132.0" r="1.45"/><circle cx="338.8" cy="130.7" r="1.45"/><circle cx="331.0" cy="128.5" r="1.45"/><circle cx="327.3" cy="133.3" r="1.45"/><circle cx="330.7" cy="132.1" r="1.45"/><circle cx="325.7" cy="128.6" r="1.45"/><circle cx="330.0" cy="135.7" r="1.45"/><circle cx="328.5" cy="134.7" r="1.45"/><circle cx="323.6" cy="135.0" r="1.45"/><circle cx="331.2" cy="132.4" r="1.45"/><circle cx="329.9" cy="135.1" r="1.45"/><circle cx="327.6" cy="132.8" r="1.45"/><circle cx="340.9" cy="130.4" r="1.45"/><circle cx="327.5" cy="132.2" r="1.45"/><circle cx="330.7" cy="134.9" r="1.45"/><circle cx="325.8" cy="132.6" r="1.45"/><circle cx="338.5" cy="130.1" r="1.45"/><circle cx="332.1" cy="132.8" r="1.45"/><circle cx="326.9" cy="118.1" r="1.45"/><circle cx="326.9" cy="121.2" r="1.45"/><circle cx="337.7" cy="121.9" r="1.45"/><circle cx="323.8" cy="125.8" r="1.45"/><circle cx="330" cy="127.3" r="1.45"/><circle cx="333.5" cy="126.5" r="1.45"/><circle cx="337.7" cy="128" r="1.45"/><circle cx="327" cy="124" r="1.45"/><circle cx="341" cy="129" r="1.45"/></g>
<g fill="#dc5f9b"><path d="M343.0,171.7 L343.0,134.4 L343.9,136.9 L344.8,134.8 L345.7,135.8 L346.6,136.4 L347.6,136.4 L348.5,135.2 L349.4,134.6 L350.3,135.5 L351.2,134.0 L352.1,136.4 L353.0,134.8 L353.9,136.5 L354.9,134.5 L355.8,134.9 L356.7,134.5 L357.6,135.0 L358.5,134.2 L359.4,133.6 L360.3,136.1 L361.2,134.6 L362.2,134.4 L363.1,134.6 L364.0,135.2 L364.9,135.1 L365.8,135.8 L365.8,171.7 Z"/><circle cx="344.2" cy="135.5" r="1.45"/><circle cx="345.8" cy="136.1" r="1.45"/><circle cx="347.8" cy="134.1" r="1.45"/><circle cx="349.8" cy="136.1" r="1.45"/><circle cx="351.8" cy="134.3" r="1.45"/><circle cx="353.9" cy="135.5" r="1.45"/><circle cx="355.1" cy="134.0" r="1.45"/><circle cx="357.2" cy="135.5" r="1.45"/><circle cx="358.7" cy="134.2" r="1.45"/><circle cx="360.0" cy="134.5" r="1.45"/><circle cx="362.0" cy="134.8" r="1.45"/><circle cx="363.3" cy="136.1" r="1.45"/><circle cx="347.5" cy="129.2" r="1.45"/><circle cx="356.7" cy="130.8" r="1.45"/><circle cx="357.9" cy="129.1" r="1.45"/><circle cx="360.4" cy="130.1" r="1.45"/><circle cx="348.1" cy="131.6" r="1.45"/><circle cx="355.0" cy="131.2" r="1.45"/><circle cx="353.1" cy="129.4" r="1.45"/><circle cx="355.5" cy="133.6" r="1.45"/><circle cx="348.9" cy="134.0" r="1.45"/><circle cx="354.3" cy="134.2" r="1.45"/><circle cx="353.7" cy="133.9" r="1.45"/><circle cx="354.2" cy="132.7" r="1.45"/><circle cx="355.2" cy="129.7" r="1.45"/><circle cx="344.1" cy="130.1" r="1.45"/><circle cx="353.7" cy="132.4" r="1.45"/><circle cx="357.8" cy="130.1" r="1.45"/><circle cx="351.8" cy="133.1" r="1.45"/><circle cx="364.0" cy="134.1" r="1.45"/><circle cx="357.3" cy="132.0" r="1.45"/><circle cx="344.6" cy="132.1" r="1.45"/><circle cx="358.2" cy="128.1" r="1.45"/><circle cx="350.9" cy="126.8" r="1.45"/><circle cx="354.6" cy="132.8" r="1.45"/><circle cx="362.7" cy="134.2" r="1.45"/><circle cx="358.9" cy="132.0" r="1.45"/><circle cx="351.0" cy="129.8" r="1.45"/><circle cx="351.6" cy="132.8" r="1.45"/><circle cx="354.9" cy="130.9" r="1.45"/><circle cx="348.4" cy="133.0" r="1.45"/><circle cx="361.2" cy="120.4" r="1.45"/><circle cx="361.2" cy="123.5" r="1.45"/><circle cx="362.3" cy="126.5" r="1.45"/><circle cx="351.5" cy="126.8" r="1.45"/><circle cx="347" cy="128" r="1.45"/><circle cx="355" cy="131" r="1.45"/><circle cx="358" cy="130" r="1.45"/><circle cx="364" cy="130" r="1.45"/></g>
<g fill="#72c0e4"><path d="M365.8,171.7 L365.8,140.0 L366.7,140.5 L367.6,141.4 L368.5,139.6 L369.4,141.4 L370.3,140.0 L371.2,140.3 L372.1,139.5 L373.0,140.3 L373.9,141.9 L374.9,140.8 L375.8,141.3 L376.7,139.7 L377.6,139.7 L378.5,139.6 L379.4,140.6 L380.3,140.8 L381.2,141.3 L382.1,138.7 L383.0,141.1 L383.0,171.7 Z"/><circle cx="367.0" cy="141.0" r="1.45"/><circle cx="368.7" cy="139.1" r="1.45"/><circle cx="370.2" cy="139.0" r="1.45"/><circle cx="371.6" cy="141.1" r="1.45"/><circle cx="373.4" cy="140.5" r="1.45"/><circle cx="375.4" cy="141.1" r="1.45"/><circle cx="377.2" cy="140.4" r="1.45"/><circle cx="379.1" cy="140.6" r="1.45"/><circle cx="380.9" cy="140.6" r="1.45"/><circle cx="376.9" cy="137.9" r="1.45"/><circle cx="378.4" cy="139.1" r="1.45"/><circle cx="369.6" cy="139.2" r="1.45"/><circle cx="378.6" cy="133.7" r="1.45"/><circle cx="376.8" cy="138.2" r="1.45"/><circle cx="379.3" cy="135.7" r="1.45"/><circle cx="375.3" cy="138.6" r="1.45"/><circle cx="371.4" cy="138.0" r="1.45"/><circle cx="371.6" cy="138.0" r="1.45"/><circle cx="376.6" cy="133.1" r="1.45"/><circle cx="367.6" cy="137.4" r="1.45"/><circle cx="367.4" cy="139.0" r="1.45"/><circle cx="379.1" cy="137.3" r="1.45"/><circle cx="380.8" cy="137.9" r="1.45"/><circle cx="367.0" cy="138.2" r="1.45"/><circle cx="375.8" cy="132.9" r="1.45"/><circle cx="381.7" cy="137.8" r="1.45"/><circle cx="373.1" cy="139.1" r="1.45"/><circle cx="376.6" cy="138.8" r="1.45"/><circle cx="369.1" cy="139.3" r="1.45"/><circle cx="366.9" cy="136.7" r="1.45"/><circle cx="368.6" cy="131.8" r="1.45"/><circle cx="374.6" cy="120.4" r="1.45"/><circle cx="373.5" cy="125" r="1.45"/><circle cx="368.5" cy="129.3" r="1.45"/><circle cx="380" cy="132" r="1.45"/><circle cx="377.7" cy="135.8" r="1.45"/><circle cx="375" cy="122.5" r="1.45"/></g>
<g fill="#e0883e"><path d="M383.0,171.7 L383.0,137.4 L383.9,140.1 L384.9,137.5 L385.8,137.2 L386.7,139.5 L387.6,137.9 L388.6,139.6 L389.5,137.7 L390.4,137.3 L391.4,139.7 L392.3,139.5 L393.2,140.0 L394.1,139.6 L395.1,137.4 L396.0,139.2 L396.9,139.5 L397.8,138.7 L398.8,140.3 L399.7,138.0 L399.7,171.7 Z"/><circle cx="384.2" cy="139.7" r="1.45"/><circle cx="386.1" cy="137.5" r="1.45"/><circle cx="387.3" cy="139.0" r="1.45"/><circle cx="389.3" cy="137.7" r="1.45"/><circle cx="390.9" cy="139.2" r="1.45"/><circle cx="392.2" cy="139.5" r="1.45"/><circle cx="393.9" cy="137.6" r="1.45"/><circle cx="395.5" cy="138.8" r="1.45"/><circle cx="397.1" cy="139.1" r="1.45"/><circle cx="398.5" cy="139.3" r="1.45"/><circle cx="393.5" cy="135.5" r="1.45"/><circle cx="390.1" cy="136.7" r="1.45"/><circle cx="395.6" cy="131.1" r="1.45"/><circle cx="395.5" cy="135.9" r="1.45"/><circle cx="388.3" cy="137.7" r="1.45"/><circle cx="398.3" cy="135.0" r="1.45"/><circle cx="396.2" cy="136.9" r="1.45"/><circle cx="392.9" cy="130.3" r="1.45"/><circle cx="396.2" cy="135.7" r="1.45"/><circle cx="388.5" cy="136.5" r="1.45"/><circle cx="397.1" cy="136.7" r="1.45"/><circle cx="394.1" cy="135.7" r="1.45"/><circle cx="397.2" cy="134.0" r="1.45"/><circle cx="388.2" cy="137.8" r="1.45"/><circle cx="387.9" cy="136.5" r="1.45"/><circle cx="392.6" cy="133.9" r="1.45"/><circle cx="397.0" cy="137.7" r="1.45"/><circle cx="396.2" cy="134.0" r="1.45"/><circle cx="396.7" cy="135.8" r="1.45"/><circle cx="388.0" cy="133.4" r="1.45"/><circle cx="395.9" cy="135.1" r="1.45"/><circle cx="390.5" cy="120.1" r="1.45"/><circle cx="396.9" cy="121.2" r="1.45"/><circle cx="391.5" cy="124.2" r="1.45"/><circle cx="386.2" cy="128" r="1.45"/><circle cx="391.5" cy="129.3" r="1.45"/><circle cx="393" cy="130.4" r="1.45"/><circle cx="395.4" cy="134.2" r="1.45"/><circle cx="388.5" cy="133.5" r="1.45"/></g>
<g fill="#7a2e84"><path d="M399.7,171.7 L399.7,139.7 L400.6,137.8 L401.6,136.9 L402.5,138.5 L403.5,139.3 L404.4,137.3 L405.4,139.2 L406.3,139.8 L407.3,137.4 L408.2,138.7 L409.2,138.9 L410.1,138.2 L411.1,137.3 L412.0,137.5 L412.0,171.7 Z"/><circle cx="400.9" cy="138.7" r="1.45"/><circle cx="402.9" cy="138.1" r="1.45"/><circle cx="404.2" cy="138.9" r="1.45"/><circle cx="406.2" cy="137.5" r="1.45"/><circle cx="407.9" cy="139.1" r="1.45"/><circle cx="410.0" cy="138.2" r="1.45"/><circle cx="406.8" cy="136.8" r="1.45"/><circle cx="402.7" cy="136.8" r="1.45"/><circle cx="407.9" cy="136.3" r="1.45"/><circle cx="406.5" cy="136.1" r="1.45"/><circle cx="406.0" cy="136.9" r="1.45"/><circle cx="401.2" cy="129.8" r="1.45"/><circle cx="404.6" cy="137.0" r="1.45"/><circle cx="407.2" cy="133.7" r="1.45"/><circle cx="402.3" cy="135.2" r="1.45"/><circle cx="404.3" cy="135.6" r="1.45"/><circle cx="400.9" cy="137.2" r="1.45"/><circle cx="410.9" cy="132.7" r="1.45"/><circle cx="405.7" cy="135.4" r="1.45"/><circle cx="403.4" cy="133.8" r="1.45"/><circle cx="405.1" cy="130.6" r="1.45"/><circle cx="404.9" cy="125" r="1.45"/><circle cx="408.5" cy="123.5" r="1.45"/><circle cx="409.5" cy="127.3" r="1.45"/><circle cx="411.5" cy="132.7" r="1.45"/><circle cx="402" cy="130" r="1.45"/></g>
<g fill="#8c8c8c"><path d="M412.0,171.7 L412.0,142.7 L412.9,142.9 L413.9,143.4 L414.8,141.0 L415.8,140.2 L416.7,141.9 L417.7,143.2 L418.6,144.3 L419.6,144.1 L420.5,144.7 L421.5,144.7 L422.4,142.5 L423.4,143.8 L424.3,143.4 L425.3,140.2 L426.2,141.6 L426.2,171.7 Z"/><circle cx="413.2" cy="141.4" r="1.45"/><circle cx="414.5" cy="142.7" r="1.45"/><circle cx="416.0" cy="141.8" r="1.45"/><circle cx="417.8" cy="145.4" r="1.45"/><circle cx="419.7" cy="145.1" r="1.45"/><circle cx="421.3" cy="142.6" r="1.45"/><circle cx="423.5" cy="143.2" r="1.45"/><circle cx="424.9" cy="140.5" r="1.45"/><circle cx="417.3" cy="137.4" r="1.45"/><circle cx="424.0" cy="136.9" r="1.45"/><circle cx="413.6" cy="137.2" r="1.45"/><circle cx="421.7" cy="139.8" r="1.45"/><circle cx="425.0" cy="140.6" r="1.45"/><circle cx="414.8" cy="137.6" r="1.45"/><circle cx="424.5" cy="138.3" r="1.45"/><circle cx="416.6" cy="139.7" r="1.45"/><circle cx="422.2" cy="141.5" r="1.45"/><circle cx="417.0" cy="141.5" r="1.45"/><circle cx="414.5" cy="139.3" r="1.45"/><circle cx="415.1" cy="140.2" r="1.45"/><circle cx="414.7" cy="138.2" r="1.45"/><circle cx="413.2" cy="137.9" r="1.45"/><circle cx="415.4" cy="140.7" r="1.45"/><circle cx="424.3" cy="140.4" r="1.45"/><circle cx="424.4" cy="136.3" r="1.45"/><circle cx="423.8" cy="140.8" r="1.45"/><circle cx="416.2" cy="119.2" r="1.45"/><circle cx="421.2" cy="123.5" r="1.45"/><circle cx="421.2" cy="125" r="1.45"/><circle cx="425.4" cy="129.3" r="1.45"/><circle cx="425.8" cy="133.5" r="1.45"/><circle cx="416.6" cy="132.4" r="1.45"/><circle cx="417.7" cy="135.8" r="1.45"/></g>
<g fill="#cf3d2e"><path d="M426.2,171.7 L426.2,139.1 L427.1,137.9 L428.0,140.8 L429.0,140.5 L429.9,139.7 L430.8,139.1 L431.7,138.8 L432.7,140.4 L433.6,139.2 L434.5,139.7 L435.4,138.1 L436.4,138.4 L437.3,137.8 L438.2,140.0 L438.2,171.7 Z"/><circle cx="427.4" cy="139.3" r="1.45"/><circle cx="428.7" cy="140.0" r="1.45"/><circle cx="430.2" cy="138.9" r="1.45"/><circle cx="431.6" cy="138.6" r="1.45"/><circle cx="433.6" cy="138.8" r="1.45"/><circle cx="435.0" cy="139.1" r="1.45"/><circle cx="436.5" cy="140.1" r="1.45"/><circle cx="437.0" cy="138.2" r="1.45"/><circle cx="436.2" cy="135.8" r="1.45"/><circle cx="429.3" cy="136.8" r="1.45"/><circle cx="430.1" cy="137.6" r="1.45"/><circle cx="429.2" cy="137.3" r="1.45"/><circle cx="437.1" cy="130.8" r="1.45"/><circle cx="436.5" cy="138.1" r="1.45"/><circle cx="430.1" cy="133.1" r="1.45"/><circle cx="427.8" cy="135.3" r="1.45"/><circle cx="430.1" cy="130.8" r="1.45"/><circle cx="427.4" cy="134.5" r="1.45"/><circle cx="430.6" cy="138.0" r="1.45"/><circle cx="427.2" cy="134.2" r="1.45"/><circle cx="432.5" cy="137.8" r="1.45"/><circle cx="431.6" cy="132.7" r="1.45"/><circle cx="438.5" cy="125.8" r="1.45"/><circle cx="434.6" cy="131.2" r="1.45"/><circle cx="432" cy="133" r="1.45"/><circle cx="429" cy="133" r="1.45"/></g>
<g fill="#6cb444"><path d="M438.2,171.7 L438.2,138.3 L439.1,139.8 L440.1,138.6 L441.1,139.0 L442.0,141.2 L442.9,142.6 L443.9,142.4 L444.9,143.6 L445.8,143.1 L446.8,143.9 L447.7,142.6 L448.6,141.3 L449.6,140.6 L450.6,141.6 L451.5,141.5 L451.5,171.7 Z"/><circle cx="439.4" cy="140.2" r="1.45"/><circle cx="441.2" cy="139.3" r="1.45"/><circle cx="442.4" cy="141.4" r="1.45"/><circle cx="444.1" cy="144.1" r="1.45"/><circle cx="445.3" cy="145.6" r="1.45"/><circle cx="446.8" cy="144.1" r="1.45"/><circle cx="448.9" cy="141.7" r="1.45"/><circle cx="450.1" cy="142.2" r="1.45"/><circle cx="449.1" cy="140.1" r="1.45"/><circle cx="441.3" cy="135.0" r="1.45"/><circle cx="443.3" cy="141.1" r="1.45"/><circle cx="443.4" cy="139.5" r="1.45"/><circle cx="439.3" cy="136.9" r="1.45"/><circle cx="444.2" cy="141.4" r="1.45"/><circle cx="440.6" cy="136.0" r="1.45"/><circle cx="448.4" cy="136.5" r="1.45"/><circle cx="442.8" cy="137.8" r="1.45"/><circle cx="443.5" cy="138.6" r="1.45"/><circle cx="439.9" cy="134.0" r="1.45"/><circle cx="450.0" cy="138.9" r="1.45"/><circle cx="445.0" cy="142.6" r="1.45"/><circle cx="445.3" cy="144.0" r="1.45"/><circle cx="450.1" cy="139.8" r="1.45"/><circle cx="441.3" cy="138.9" r="1.45"/><circle cx="442.0" cy="135.4" r="1.45"/><circle cx="450.8" cy="122.7" r="1.45"/><circle cx="440.8" cy="128.8" r="1.45"/><circle cx="444.3" cy="130.4" r="1.45"/><circle cx="448.5" cy="132.7" r="1.45"/><circle cx="450" cy="134.2" r="1.45"/><circle cx="442" cy="131" r="1.45"/></g>
<g fill="#905248"><path d="M451.5,171.7 L451.5,137.2 L452.5,137.4 L453.4,139.5 L454.4,137.8 L455.4,137.2 L456.3,139.1 L457.3,139.1 L458.2,138.9 L459.2,139.5 L459.2,171.7 Z"/><circle cx="452.7" cy="137.7" r="1.45"/><circle cx="454.8" cy="139.1" r="1.45"/><circle cx="456.0" cy="137.8" r="1.45"/><circle cx="457.7" cy="138.7" r="1.45"/><circle cx="453.2" cy="136.6" r="1.45"/><circle cx="453.3" cy="135.7" r="1.45"/><circle cx="457.4" cy="137.4" r="1.45"/><circle cx="455.8" cy="134.6" r="1.45"/><circle cx="453.4" cy="133.8" r="1.45"/><circle cx="457.8" cy="136.7" r="1.45"/><circle cx="454.9" cy="133.6" r="1.45"/><circle cx="455.5" cy="136.6" r="1.45"/><circle cx="457.9" cy="134.3" r="1.45"/><circle cx="454.4" cy="137.2" r="1.45"/><circle cx="458.5" cy="128" r="1.45"/><circle cx="455" cy="130" r="1.45"/></g>
<g fill="#161616"><path d="M459.2,171.7 L459.2,137.7 L460.1,135.9 L461.0,135.6 L461.9,135.0 L462.8,138.1 L463.7,138.6 L464.6,139.0 L465.5,136.6 L466.4,137.7 L467.3,137.8 L468.2,136.3 L469.1,135.0 L470.0,138.0 L470.0,171.7 Z"/><circle cx="460.4" cy="135.6" r="1.45"/><circle cx="462.0" cy="134.1" r="1.45"/><circle cx="463.2" cy="137.1" r="1.45"/><circle cx="464.9" cy="136.7" r="1.45"/><circle cx="466.3" cy="138.8" r="1.45"/><circle cx="468.3" cy="135.5" r="1.45"/><circle cx="467.3" cy="130.2" r="1.45"/><circle cx="468.0" cy="134.0" r="1.45"/><circle cx="465.8" cy="136.5" r="1.45"/><circle cx="466.2" cy="136.3" r="1.45"/><circle cx="465.0" cy="131.0" r="1.45"/><circle cx="465.7" cy="136.5" r="1.45"/><circle cx="464.8" cy="135.6" r="1.45"/><circle cx="468.6" cy="132.7" r="1.45"/><circle cx="462.9" cy="133.6" r="1.45"/><circle cx="461.3" cy="130.3" r="1.45"/><circle cx="468.6" cy="131.9" r="1.45"/><circle cx="462.6" cy="133.5" r="1.45"/><circle cx="464.9" cy="136.6" r="1.45"/><circle cx="461.3" cy="132.0" r="1.45"/><circle cx="461" cy="127" r="1.45"/><circle cx="462" cy="127.5" r="1.45"/><circle cx="468.5" cy="129" r="1.45"/></g>
<g fill="#45307d"><path d="M470.0,171.7 L470.0,140.1 L470.9,140.5 L471.8,140.1 L472.7,139.9 L473.6,139.4 L474.6,141.0 L475.5,142.0 L476.4,141.2 L477.3,141.0 L478.2,141.3 L478.2,171.7 Z"/><circle cx="471.2" cy="140.0" r="1.45"/><circle cx="473.1" cy="140.6" r="1.45"/><circle cx="474.9" cy="140.9" r="1.45"/><circle cx="476.5" cy="140.2" r="1.45"/><circle cx="472.4" cy="138.1" r="1.45"/><circle cx="473.4" cy="137.8" r="1.45"/><circle cx="471.1" cy="138.8" r="1.45"/><circle cx="476.3" cy="139.2" r="1.45"/><circle cx="474.5" cy="138.2" r="1.45"/><circle cx="472.8" cy="132.3" r="1.45"/><circle cx="472.8" cy="136.4" r="1.45"/><circle cx="472.0" cy="139.6" r="1.45"/><circle cx="476.4" cy="138.5" r="1.45"/><circle cx="471.4" cy="138.7" r="1.45"/><circle cx="475.8" cy="91.8" r="1.45"/><circle cx="475.8" cy="100.5" r="1.45"/><circle cx="475.8" cy="118.5" r="1.45"/><circle cx="472.3" cy="127.4" r="1.45"/><circle cx="472.6" cy="132.3" r="1.45"/><circle cx="476.2" cy="133" r="1.45"/></g>
<g fill="#dc5f9b"><path d="M478.2,171.7 L478.2,134.6 L479.2,135.6 L480.2,133.5 L481.2,133.9 L482.2,136.4 L483.2,135.6 L484.2,133.6 L484.2,171.7 Z"/><circle cx="479.4" cy="134.3" r="1.45"/><circle cx="481.0" cy="135.1" r="1.45"/><circle cx="482.8" cy="135.5" r="1.45"/><circle cx="481.3" cy="130.7" r="1.45"/><circle cx="482.2" cy="130.5" r="1.45"/><circle cx="481.1" cy="130.3" r="1.45"/><circle cx="482.0" cy="128.1" r="1.45"/><circle cx="479.7" cy="129.1" r="1.45"/><circle cx="479.2" cy="130.5" r="1.45"/><circle cx="481.5" cy="132.2" r="1.45"/><circle cx="484.3" cy="125" r="1.45"/><circle cx="480.3" cy="127.4" r="1.45"/><circle cx="482" cy="129" r="1.45"/></g>
<g fill="#72c0e4"><path d="M484.2,171.7 L484.2,142.4 L485.1,141.1 L486.0,140.7 L487.0,142.0 L487.9,142.4 L488.8,141.6 L489.7,140.9 L490.6,141.1 L491.5,141.2 L492.5,142.1 L493.4,140.6 L494.3,140.9 L495.2,141.5 L496.1,140.9 L497.1,140.7 L498.0,142.2 L498.9,142.3 L499.8,141.1 L500.7,140.8 L501.7,139.8 L502.6,140.2 L503.5,139.8 L504.4,141.5 L505.3,141.9 L506.2,140.5 L507.2,143.6 L508.1,141.9 L509.0,144.0 L509.0,171.7 Z"/><circle cx="485.4" cy="141.5" r="1.45"/><circle cx="487.6" cy="140.3" r="1.45"/><circle cx="489.2" cy="142.0" r="1.45"/><circle cx="490.4" cy="140.1" r="1.45"/><circle cx="492.2" cy="141.1" r="1.45"/><circle cx="494.3" cy="141.8" r="1.45"/><circle cx="496.0" cy="142.3" r="1.45"/><circle cx="497.7" cy="141.1" r="1.45"/><circle cx="499.6" cy="140.7" r="1.45"/><circle cx="501.2" cy="141.0" r="1.45"/><circle cx="502.7" cy="141.7" r="1.45"/><circle cx="504.6" cy="141.2" r="1.45"/><circle cx="505.9" cy="141.3" r="1.45"/><circle cx="507.5" cy="142.3" r="1.45"/><circle cx="505.3" cy="133.1" r="1.45"/><circle cx="496.3" cy="139.0" r="1.45"/><circle cx="499.4" cy="132.6" r="1.45"/><circle cx="493.0" cy="138.6" r="1.45"/><circle cx="503.8" cy="139.6" r="1.45"/><circle cx="492.5" cy="132.8" r="1.45"/><circle cx="504.0" cy="138.5" r="1.45"/><circle cx="487.7" cy="134.9" r="1.45"/><circle cx="500.9" cy="136.0" r="1.45"/><circle cx="507.8" cy="136.4" r="1.45"/><circle cx="494.8" cy="139.9" r="1.45"/><circle cx="491.8" cy="138.7" r="1.45"/><circle cx="496.7" cy="139.8" r="1.45"/><circle cx="489.4" cy="138.0" r="1.45"/><circle cx="499.0" cy="139.1" r="1.45"/><circle cx="507.9" cy="139.1" r="1.45"/><circle cx="486.2" cy="138.8" r="1.45"/><circle cx="503.2" cy="139.0" r="1.45"/><circle cx="500.9" cy="140.0" r="1.45"/><circle cx="492.1" cy="136.1" r="1.45"/><circle cx="498.6" cy="137.6" r="1.45"/><circle cx="489.7" cy="138.7" r="1.45"/><circle cx="497.8" cy="139.5" r="1.45"/><circle cx="499.9" cy="138.3" r="1.45"/><circle cx="507.9" cy="139.5" r="1.45"/><circle cx="494.6" cy="140.0" r="1.45"/><circle cx="488.8" cy="136.9" r="1.45"/><circle cx="487.6" cy="139.9" r="1.45"/><circle cx="489.1" cy="138.5" r="1.45"/><circle cx="504.0" cy="137.9" r="1.45"/><circle cx="503.6" cy="139.8" r="1.45"/><circle cx="485.5" cy="136.5" r="1.45"/><circle cx="503" cy="130.5" r="1.45"/><circle cx="496.2" cy="133" r="1.45"/><circle cx="491.5" cy="133.8" r="1.45"/><circle cx="502.3" cy="135.7" r="1.45"/><circle cx="495.7" cy="139.2" r="1.45"/><circle cx="499.2" cy="140.8" r="1.45"/><circle cx="488" cy="135" r="1.45"/></g>
<path d="M66.9,133 L72.6,133 L69.6,151 L68.4,151 Z" fill="#fff"/>
<line x1="68.9" y1="151" x2="68.9" y2="171.5" stroke="#fff" stroke-width="0.6" stroke-dasharray="1.4,1.4" opacity="0.6"/>
<circle cx="68.9" cy="171.3" r="1.2" fill="#fff"/>
<circle cx="64.3" cy="130.4" r="1.45" fill="#45307d"/>
<circle cx="66" cy="132" r="1.45" fill="#45307d"/>
<circle cx="73.8" cy="131" r="1.45" fill="#45307d"/>
<circle cx="72.5" cy="135" r="1.45" fill="#45307d"/>
<circle cx="71.5" cy="138.5" r="1.45" fill="#45307d"/>
<circle cx="66.5" cy="137" r="1.45" fill="#45307d"/>
<circle cx="70.8" cy="142" r="1.45" fill="#45307d"/>
<line x1="39.7" y1="27.5" x2="39.7" y2="173.7" stroke="#1a1a1a" stroke-width="1.1"/>
<line x1="39.2" y1="173.2" x2="512.5" y2="173.2" stroke="#3a3a3a" stroke-width="1.1"/>
<line x1="36.3" y1="173.00" x2="39.5" y2="173.00" stroke="#1a1a1a" stroke-width="1"/>
<text x="28.75" y="175.60" font-size="7.9" fill="#222" textLength="4.30" lengthAdjust="spacingAndGlyphs" stroke="#222" stroke-width="0.05">0</text>
<line x1="36.3" y1="151.70" x2="39.5" y2="151.70" stroke="#1a1a1a" stroke-width="1"/>
<text x="28.75" y="154.30" font-size="7.9" fill="#222" textLength="4.30" lengthAdjust="spacingAndGlyphs" stroke="#222" stroke-width="0.05">2</text>
<line x1="36.3" y1="130.40" x2="39.5" y2="130.40" stroke="#1a1a1a" stroke-width="1"/>
<text x="28.75" y="133.00" font-size="7.9" fill="#222" textLength="4.30" lengthAdjust="spacingAndGlyphs" stroke="#222" stroke-width="0.05">4</text>
<line x1="36.3" y1="109.10" x2="39.5" y2="109.10" stroke="#1a1a1a" stroke-width="1"/>
<text x="28.75" y="111.70" font-size="7.9" fill="#222" textLength="4.30" lengthAdjust="spacingAndGlyphs" stroke="#222" stroke-width="0.05">6</text>
<line x1="36.3" y1="87.80" x2="39.5" y2="87.80" stroke="#1a1a1a" stroke-width="1"/>
<text x="28.75" y="90.40" font-size="7.9" fill="#222" textLength="4.30" lengthAdjust="spacingAndGlyphs" stroke="#222" stroke-width="0.05">8</text>
<line x1="36.3" y1="66.50" x2="39.5" y2="66.50" stroke="#1a1a1a" stroke-width="1"/>
<text x="25.15" y="69.10" font-size="7.9" fill="#222" textLength="7.90" lengthAdjust="spacingAndGlyphs" stroke="#222" stroke-width="0.05">10</text>
<line x1="36.3" y1="45.20" x2="39.5" y2="45.20" stroke="#1a1a1a" stroke-width="1"/>
<text x="25.15" y="47.80" font-size="7.9" fill="#222" textLength="7.90" lengthAdjust="spacingAndGlyphs" stroke="#222" stroke-width="0.05">12</text>
<line x1="39.82" y1="94.05" x2="508" y2="94.05" stroke="#3a3a3a" stroke-width="1.3" stroke-dasharray="3.4,2.06"/>
<text x="49.95" y="90.5" font-size="7.7" fill="#222" text-anchor="middle" stroke="#222" stroke-width="0.08">P</text>
<text x="55.95" y="90.5" font-size="7.7" fill="#222" text-anchor="middle" stroke="#222" stroke-width="0.08">=</text>
<text x="61.45" y="90.5" font-size="7.7" fill="#222" text-anchor="middle" stroke="#222" stroke-width="0.08">5</text>
<text x="67.15" y="90.5" font-size="7.7" fill="#222" text-anchor="middle" stroke="#222" stroke-width="0.08">×</text>
<text x="73.0" y="90.5" font-size="7.7" fill="#222" text-anchor="middle" stroke="#222" stroke-width="0.08">1</text>
<text x="76.5" y="90.5" font-size="7.7" fill="#222" text-anchor="middle" stroke="#222" stroke-width="0.08">0</text>
<line x1="78.9" y1="85.7" x2="80.4" y2="85.7" stroke="#333" stroke-width="0.6"/>
<text x="82.15" y="87.7" font-size="4.9" fill="#222" text-anchor="middle">8</text>
<text transform="translate(15.0,98.7) rotate(-90)" font-size="8.8" fill="#222" stroke="#222" stroke-width="0.15" text-anchor="middle" textLength="57" lengthAdjust="spacingAndGlyphs">-log<tspan font-size="6.2" dy="2.6">10</tspan><tspan dy="-2.6">(P value)</tspan></text>
<line x1="68.75" y1="173.5" x2="68.75" y2="176.3" stroke="#2a2a2a" stroke-width="1"/>
<text x="66.60" y="186.6" font-size="8.6" fill="#222" textLength="4.30" lengthAdjust="spacingAndGlyphs" stroke="#222" stroke-width="0.02">1</text>
<line x1="103.25" y1="173.5" x2="103.25" y2="176.3" stroke="#2a2a2a" stroke-width="1"/>
<text x="101.10" y="186.6" font-size="8.6" fill="#222" textLength="4.30" lengthAdjust="spacingAndGlyphs" stroke="#222" stroke-width="0.02">2</text>
<line x1="137" y1="173.5" x2="137" y2="176.3" stroke="#2a2a2a" stroke-width="1"/>
<text x="134.85" y="186.6" font-size="8.6" fill="#222" textLength="4.30" lengthAdjust="spacingAndGlyphs" stroke="#222" stroke-width="0.02">3</text>
<line x1="167" y1="173.5" x2="167" y2="176.3" stroke="#2a2a2a" stroke-width="1"/>
<text x="164.85" y="186.6" font-size="8.6" fill="#222" textLength="4.30" lengthAdjust="spacingAndGlyphs" stroke="#222" stroke-width="0.02">4</text>
<line x1="194.5" y1="173.5" x2="194.5" y2="176.3" stroke="#2a2a2a" stroke-width="1"/>
<text x="192.35" y="186.6" font-size="8.6" fill="#222" textLength="4.30" lengthAdjust="spacingAndGlyphs" stroke="#222" stroke-width="0.02">5</text>
<line x1="222.5" y1="173.5" x2="222.5" y2="176.3" stroke="#2a2a2a" stroke-width="1"/>
<text x="220.35" y="186.6" font-size="8.6" fill="#222" textLength="4.30" lengthAdjust="spacingAndGlyphs" stroke="#222" stroke-width="0.02">6</text>
<line x1="246" y1="173.5" x2="246" y2="176.3" stroke="#2a2a2a" stroke-width="1"/>
<text x="243.85" y="186.6" font-size="8.6" fill="#222" textLength="4.30" lengthAdjust="spacingAndGlyphs" stroke="#222" stroke-width="0.02">7</text>
<line x1="269" y1="173.5" x2="269" y2="176.3" stroke="#2a2a2a" stroke-width="1"/>
<text x="266.85" y="186.6" font-size="8.6" fill="#222" textLength="4.30" lengthAdjust="spacingAndGlyphs" stroke="#222" stroke-width="0.02">8</text>
<line x1="290" y1="173.5" x2="290" y2="176.3" stroke="#2a2a2a" stroke-width="1"/>
<text x="287.85" y="186.6" font-size="8.6" fill="#222" textLength="4.30" lengthAdjust="spacingAndGlyphs" stroke="#222" stroke-width="0.02">9</text>
<line x1="312.5" y1="173.5" x2="312.5" y2="176.3" stroke="#2a2a2a" stroke-width="1"/>
<text x="308.30" y="186.6" font-size="8.6" fill="#222" textLength="8.40" lengthAdjust="spacingAndGlyphs" stroke="#222" stroke-width="0.02">10</text>
<line x1="332.5" y1="173.5" x2="332.5" y2="176.3" stroke="#2a2a2a" stroke-width="1"/>
<text x="328.30" y="186.6" font-size="8.6" fill="#222" textLength="8.40" lengthAdjust="spacingAndGlyphs" stroke="#222" stroke-width="0.02">11</text>
<line x1="354.5" y1="173.5" x2="354.5" y2="176.3" stroke="#2a2a2a" stroke-width="1"/>
<text x="350.30" y="186.6" font-size="8.6" fill="#222" textLength="8.40" lengthAdjust="spacingAndGlyphs" stroke="#222" stroke-width="0.02">12</text>
<line x1="375" y1="173.5" x2="375" y2="176.3" stroke="#2a2a2a" stroke-width="1"/>
<text x="370.80" y="186.6" font-size="8.6" fill="#222" textLength="8.40" lengthAdjust="spacingAndGlyphs" stroke="#222" stroke-width="0.02">13</text>
<line x1="391" y1="173.5" x2="391" y2="176.3" stroke="#2a2a2a" stroke-width="1"/>
<text x="386.80" y="186.6" font-size="8.6" fill="#222" textLength="8.40" lengthAdjust="spacingAndGlyphs" stroke="#222" stroke-width="0.02">14</text>
<line x1="407" y1="173.5" x2="407" y2="176.3" stroke="#2a2a2a" stroke-width="1"/>
<text x="402.80" y="186.6" font-size="8.6" fill="#222" textLength="8.40" lengthAdjust="spacingAndGlyphs" stroke="#222" stroke-width="0.02">15</text>
<line x1="419.5" y1="173.5" x2="419.5" y2="176.3" stroke="#2a2a2a" stroke-width="1"/>
<text x="415.30" y="186.6" font-size="8.6" fill="#222" textLength="8.40" lengthAdjust="spacingAndGlyphs" stroke="#222" stroke-width="0.02">16</text>
<line x1="432" y1="173.5" x2="432" y2="176.3" stroke="#2a2a2a" stroke-width="1"/>
<text x="427.80" y="186.6" font-size="8.6" fill="#222" textLength="8.40" lengthAdjust="spacingAndGlyphs" stroke="#222" stroke-width="0.02">17</text>
<line x1="455" y1="173.5" x2="455" y2="176.3" stroke="#2a2a2a" stroke-width="1"/>
<text x="450.80" y="186.6" font-size="8.6" fill="#222" textLength="8.40" lengthAdjust="spacingAndGlyphs" stroke="#222" stroke-width="0.02">19</text>
<line x1="474.8" y1="173.5" x2="474.8" y2="176.3" stroke="#2a2a2a" stroke-width="1"/>
<text x="470.60" y="186.6" font-size="8.6" fill="#222" textLength="8.40" lengthAdjust="spacingAndGlyphs" stroke="#222" stroke-width="0.02">21</text>
<line x1="497.3" y1="173.5" x2="497.3" y2="176.3" stroke="#2a2a2a" stroke-width="1"/>
<text x="495.15" y="186.6" font-size="8.6" fill="#222" textLength="4.30" lengthAdjust="spacingAndGlyphs" stroke="#222" stroke-width="0.02">x</text>
<line x1="444.5" y1="173.5" x2="444.5" y2="186" stroke="#2a2a2a" stroke-width="1"/>
<text x="440.30" y="197.3" font-size="8.6" fill="#222" textLength="8.40" lengthAdjust="spacingAndGlyphs" stroke="#222" stroke-width="0.02">18</text>
<line x1="465" y1="173.5" x2="465" y2="186" stroke="#2a2a2a" stroke-width="1"/>
<text x="460.80" y="197.3" font-size="8.6" fill="#222" textLength="8.40" lengthAdjust="spacingAndGlyphs" stroke="#222" stroke-width="0.02">20</text>
<line x1="482" y1="173.5" x2="482" y2="186" stroke="#2a2a2a" stroke-width="1"/>
<text x="477.80" y="197.3" font-size="8.6" fill="#222" textLength="8.40" lengthAdjust="spacingAndGlyphs" stroke="#222" stroke-width="0.02">22</text>
<text x="248.15" y="198.8" font-size="10.4" fill="#222" textLength="55.60" lengthAdjust="spacingAndGlyphs" stroke="#222" stroke-width="0.02">Chromosome</text>
<text x="301.15" y="28.1" font-size="7.4" fill="#222" textLength="24.20" lengthAdjust="spacingAndGlyphs" stroke="#222" stroke-width="0.05">ARID5B</text>
<line x1="313" y1="30.8" x2="313.00" y2="37.60" stroke="#111" stroke-width="1.15"/>
<path d="M313,43.6 L310.30,37.60 L313.00,38.32 L315.70,37.60 Z" fill="#111"/>
<text x="280.65" y="66.1" font-size="7.4" fill="#222" textLength="21.20" lengthAdjust="spacingAndGlyphs" stroke="#222" stroke-width="0.05">GATA3</text>
<line x1="292.3" y1="69.2" x2="300.19" y2="82.81" stroke="#111" stroke-width="1.15"/>
<path d="M303.2,88 L297.85,84.16 L300.55,83.43 L302.53,81.46 Z" fill="#111"/>
<text x="234.05" y="75.2" font-size="7.3" fill="#222" textLength="17.80" lengthAdjust="spacingAndGlyphs" stroke="#222" stroke-width="0.05">IKZF1</text>
<line x1="243.4" y1="78" x2="243.40" y2="84.30" stroke="#111" stroke-width="1.15"/>
<path d="M243.4,90.3 L240.70,84.30 L243.40,85.02 L246.10,84.30 Z" fill="#111"/>
<text x="469.75" y="74.2" font-size="7.8" fill="#5a4a9a" textLength="13.70" lengthAdjust="spacingAndGlyphs" stroke="#5a4a9a" stroke-width="0.1">ERG</text>
<line x1="475.6" y1="77.3" x2="475.60" y2="84.20" stroke="#111" stroke-width="1.15"/>
<path d="M475.6,90.2 L472.90,84.20 L475.60,84.92 L478.30,84.20 Z" fill="#111"/>
<text x="8.50" y="15.8" font-size="11.6" fill="#111" textLength="7.85" lengthAdjust="spacingAndGlyphs" stroke="#111" stroke-width="0.05">A</text>
<text x="7.85" y="225.9" font-size="11.6" fill="#111" textLength="7.80" lengthAdjust="spacingAndGlyphs" stroke="#111" stroke-width="0.05">B</text>
<line x1="114.6" y1="233.4" x2="114.6" y2="254.4" stroke="#efcccc" stroke-width="1"/>
<line x1="114.6" y1="285.7" x2="114.6" y2="337.2" stroke="#efcccc" stroke-width="1"/>
<line x1="114.6" y1="366.9" x2="114.6" y2="656.6" stroke="#efcccc" stroke-width="1"/>
<text x="92.35" y="243.5" font-size="7.7" fill="#222" textLength="18.40" lengthAdjust="spacingAndGlyphs" stroke="#222" stroke-width="0.05">Scale</text>
<text x="89.65" y="252.9" font-size="7.7" fill="#222" textLength="21.50" lengthAdjust="spacingAndGlyphs" stroke="#222" stroke-width="0.05">chr21:</text>
<text x="134.65" y="253.2" font-size="7.7" fill="#222" textLength="38.20" lengthAdjust="spacingAndGlyphs" stroke="#222" stroke-width="0.05">39,750,000</text>
<line x1="173.8" y1="246" x2="173.8" y2="255" stroke="#222" stroke-width="0.9"/>
<text x="220.05" y="243.8" font-size="7.7" fill="#222" textLength="19.10" lengthAdjust="spacingAndGlyphs" stroke="#222" stroke-width="0.05">50 kb</text>
<line x1="243" y1="237" x2="243" y2="245.2" stroke="#222" stroke-width="0.9"/>
<line x1="243" y1="241.2" x2="370.2" y2="241.2" stroke="#333" stroke-width="0.9"/>
<line x1="370.2" y1="237" x2="370.2" y2="245.2" stroke="#222" stroke-width="0.9"/>
<text x="373.35" y="243.3" font-size="7.7" fill="#222" textLength="18.70" lengthAdjust="spacingAndGlyphs" stroke="#222" stroke-width="0.05">hg19</text>
<text x="262.65" y="253.2" font-size="7.7" fill="#222" textLength="37.10" lengthAdjust="spacingAndGlyphs" stroke="#222" stroke-width="0.05">39,800,000</text>
<line x1="301.3" y1="246" x2="301.3" y2="255" stroke="#222" stroke-width="0.9"/>
<text x="389.65" y="252.9" font-size="7.7" fill="#222" textLength="37.70" lengthAdjust="spacingAndGlyphs" stroke="#222" stroke-width="0.05">39,850,000</text>
<line x1="428.7" y1="246" x2="428.7" y2="255" stroke="#222" stroke-width="0.9"/>
<text x="228.65" y="269.7" font-size="7.8" fill="#222" textLength="59.70" lengthAdjust="spacingAndGlyphs" stroke="#222" stroke-width="0.05">ALL susceptibility</text>
<path d="M203.5,279.3 V274.4 H314.5 V279.3" fill="none" stroke="#333" stroke-width="0.9"/>
<text x="378.05" y="270.0" font-size="7.8" fill="#222" textLength="78.10" lengthAdjust="spacingAndGlyphs" stroke="#222" stroke-width="0.05">Blood cell related traits</text>
<path d="M350.3,279.5 V275.3 H483.6 V279.5" fill="none" stroke="#333" stroke-width="0.9"/>
<text x="64.15" y="292.8" font-size="7.8" fill="#6e8a5e" textLength="48.70" lengthAdjust="spacingAndGlyphs" stroke="#6e8a5e" stroke-width="0.12">GWAS Catalog</text>
<line x1="130" y1="285.2" x2="130" y2="293.8" stroke="#7a9a6a" stroke-width="0.9"/>
<line x1="353.5" y1="285.2" x2="353.5" y2="293.8" stroke="#7a9a6a" stroke-width="0.9"/>
<line x1="399.3" y1="285.2" x2="399.3" y2="293.8" stroke="#7a9a6a" stroke-width="0.9"/>
<line x1="401.9" y1="285.2" x2="401.9" y2="293.8" stroke="#7a9a6a" stroke-width="0.9"/>
<line x1="433" y1="285.2" x2="433" y2="293.8" stroke="#7a9a6a" stroke-width="0.9"/>
<line x1="437.8" y1="285.2" x2="437.8" y2="293.8" stroke="#7a9a6a" stroke-width="0.9"/>
<line x1="442" y1="285.2" x2="442" y2="293.8" stroke="#7a9a6a" stroke-width="0.9"/>
<line x1="470.5" y1="285.2" x2="470.5" y2="293.8" stroke="#7a9a6a" stroke-width="0.9"/>
<line x1="482" y1="285.2" x2="482" y2="293.8" stroke="#7a9a6a" stroke-width="0.9"/>
<text x="33.5" y="312.6" font-size="7.8" fill="#222" stroke="#222" stroke-width="0.15" textLength="50.2" lengthAdjust="spacingAndGlyphs">-log<tspan font-size="5.4" dy="1.9">10</tspan><tspan dy="-1.9">(P value)</tspan></text>
<text x="102.85" y="304.0" font-family="Liberation Serif, serif" font-size="8.8" fill="#222" textLength="5.40" lengthAdjust="spacingAndGlyphs" stroke="#222" stroke-width="0.1">9</text>
<line x1="109.6" y1="300.5" x2="113.0" y2="300.5" stroke="#222" stroke-width="0.9"/>
<text x="101.95" y="326.3" font-family="Liberation Serif, serif" font-size="8.8" fill="#222" textLength="5.20" lengthAdjust="spacingAndGlyphs" stroke="#222" stroke-width="0.1">0</text>
<line x1="108.6" y1="323.4" x2="113.0" y2="323.4" stroke="#222" stroke-width="0.9"/>
<text x="175.65" y="290.1" font-size="7.8" fill="#222" textLength="35.30" lengthAdjust="spacingAndGlyphs" stroke="#222" stroke-width="0.05">rs2836365</text>
<text x="243.05" y="284.8" font-size="7.8" fill="#222" textLength="35.70" lengthAdjust="spacingAndGlyphs" stroke="#222" stroke-width="0.05">rs2836371</text>
<line x1="213" y1="289.5" x2="216.50" y2="293.78" stroke="#d2342a" stroke-width="1.0"/>
<path d="M219.8,297.8 L214.57,295.36 L216.90,294.26 L218.44,292.19 Z" fill="#d2342a"/>
<line x1="240.2" y1="285.2" x2="236.88" y2="289.71" stroke="#d2342a" stroke-width="1.0"/>
<path d="M233.8,293.9 L234.87,288.23 L236.51,290.21 L238.90,291.19 Z" fill="#d2342a"/>
<g><rect x="120.7" y="317.6" width="1.0" height="6.0" fill="#555"/><rect x="121.9" y="317.8" width="1.0" height="5.8" fill="#333"/><rect x="123.1" y="317.4" width="1.0" height="6.2" fill="#777"/><rect x="124.3" y="317.6" width="1.0" height="6.0" fill="#444"/><rect x="125.5" y="317.8" width="1.0" height="5.8" fill="#222"/><rect x="126.8" y="317.6" width="1.0" height="6.0" fill="#666"/><rect x="128.0" y="317.4" width="1.0" height="6.2" fill="#444"/><rect x="130.2" y="316.4" width="1.0" height="7.2" fill="#333"/><rect x="131.4" y="316.2" width="1.0" height="7.4" fill="#555"/><rect x="132.6" y="316.5" width="1.0" height="7.1" fill="#222"/><rect x="133.9" y="316.4" width="1.0" height="7.2" fill="#666"/><rect x="135.1" y="317.4" width="1.0" height="6.2" fill="#333"/><rect x="136.3" y="316.6" width="1.0" height="7.0" fill="#555"/><rect x="137.4" y="318.4" width="1.0" height="5.2" fill="#444"/><rect x="142.1" y="319.0" width="1.0" height="4.6" fill="#666"/><rect x="149.5" y="319.0" width="1.0" height="4.6" fill="#555"/><rect x="155.5" y="317.6" width="1.0" height="6.0" fill="#666"/><rect x="158.9" y="317.6" width="1.0" height="6.0" fill="#555"/><rect x="165.0" y="308.2" width="1.0" height="15.4" fill="#333"/><rect x="172.6" y="319.0" width="1.0" height="4.6" fill="#666"/><rect x="179.4" y="319.0" width="1.0" height="4.6" fill="#666"/><rect x="198.0" y="315.3" width="1.0" height="8.3" fill="#666"/><rect x="199.1" y="316.6" width="1.0" height="7.0" fill="#444"/><rect x="201.7" y="313.9" width="1.0" height="9.7" fill="#555"/><rect x="207.1" y="303.2" width="1.0" height="20.4" fill="#888"/><rect x="208.1" y="302.5" width="1.0" height="21.1" fill="#555"/><rect x="210.1" y="298.5" width="1.0" height="25.1" fill="#999"/><rect x="211.4" y="300.5" width="1.0" height="23.1" fill="#111"/><rect x="212.6" y="302.0" width="1.0" height="21.6" fill="#444"/><rect x="213.8" y="303.8" width="1.0" height="19.8" fill="#888"/><rect x="215.2" y="302.5" width="1.0" height="21.1" fill="#777"/><rect x="216.5" y="298.5" width="1.0" height="25.1" fill="#aaa"/><rect x="219.8" y="299.8" width="1.0" height="23.8" fill="#333"/><rect x="220.8" y="301.0" width="1.0" height="22.6" fill="#777"/><rect x="221.5" y="295.5" width="1.0" height="28.1" fill="#999"/><rect x="222.5" y="297.0" width="1.0" height="26.6" fill="#555"/><rect x="223.5" y="297.8" width="1.0" height="25.8" fill="#444"/><rect x="224.9" y="303.8" width="1.0" height="19.8" fill="#aaa"/><rect x="227.3" y="300.5" width="1.0" height="23.1" fill="#888"/><rect x="234.3" y="295.1" width="1.0" height="28.5" fill="#999"/><rect x="238.3" y="313.9" width="1.0" height="9.7" fill="#444"/><rect x="239.7" y="315.3" width="1.0" height="8.3" fill="#777"/><rect x="241.7" y="305.2" width="1.0" height="18.4" fill="#888"/><rect x="242.8" y="313.9" width="1.0" height="9.7" fill="#666"/><rect x="243.7" y="313.9" width="1.0" height="9.7" fill="#555"/><rect x="245.7" y="312.6" width="1.0" height="11.0" fill="#888"/><rect x="246.8" y="312.2" width="1.0" height="11.4" fill="#666"/><rect x="247.9" y="311.5" width="1.0" height="12.1" fill="#777"/><rect x="249.1" y="311.5" width="1.0" height="12.1" fill="#555"/><rect x="250.3" y="311.6" width="1.0" height="12.0" fill="#888"/><rect x="251.5" y="311.5" width="1.0" height="12.1" fill="#666"/><rect x="252.7" y="311.8" width="1.0" height="11.8" fill="#777"/><rect x="253.9" y="311.5" width="1.0" height="12.1" fill="#555"/><rect x="255.1" y="311.5" width="1.0" height="12.1" fill="#888"/><rect x="256.3" y="311.9" width="1.0" height="11.7" fill="#666"/><rect x="257.5" y="311.2" width="1.0" height="12.4" fill="#777"/><rect x="258.7" y="311.6" width="1.0" height="12.0" fill="#999"/><rect x="260.0" y="312.0" width="1.0" height="11.6" fill="#555"/><rect x="261.3" y="312.4" width="1.0" height="11.2" fill="#222"/><rect x="263.1" y="304.1" width="1.0" height="19.5" fill="#777"/><rect x="264.4" y="315.6" width="1.0" height="8.0" fill="#888"/><rect x="268.5" y="315.6" width="1.0" height="8.0" fill="#888"/><rect x="273.8" y="317.6" width="1.0" height="6.0" fill="#111"/><rect x="275.2" y="300.1" width="1.0" height="23.5" fill="#333"/><rect x="279.2" y="316.2" width="1.0" height="7.4" fill="#999"/><rect x="281.1" y="312.9" width="1.0" height="10.7" fill="#888"/><rect x="284.9" y="318.9" width="1.0" height="4.7" fill="#555"/><rect x="288.2" y="314.0" width="1.0" height="9.6" fill="#999"/><rect x="294.3" y="319.3" width="1.0" height="4.3" fill="#aaa"/><rect x="296.3" y="317.6" width="1.0" height="6.0" fill="#999"/><rect x="299.0" y="308.8" width="1.0" height="14.8" fill="#999"/><rect x="299.5" y="314.9" width="1.0" height="8.7" fill="#222"/><rect x="300.4" y="317.6" width="1.0" height="6.0" fill="#777"/><rect x="302.4" y="318.3" width="1.0" height="5.3" fill="#888"/><rect x="304.8" y="308.8" width="1.0" height="14.8" fill="#777"/><rect x="306.1" y="311.5" width="1.0" height="12.1" fill="#555"/><rect x="308.4" y="308.2" width="1.0" height="15.4" fill="#aaa"/><rect x="309.5" y="312.0" width="1.0" height="11.6" fill="#666"/><rect x="310.7" y="315.4" width="1.0" height="8.2" fill="#333"/><rect x="311.8" y="314.9" width="1.0" height="8.7" fill="#444"/><rect x="312.9" y="306.8" width="1.0" height="16.8" fill="#888"/><rect x="314.5" y="315.4" width="1.0" height="8.2" fill="#444"/><rect x="315.7" y="317.2" width="1.0" height="6.4" fill="#222"/><rect x="316.9" y="317.0" width="1.0" height="6.6" fill="#666"/><rect x="318.1" y="317.4" width="1.0" height="6.2" fill="#444"/><rect x="319.3" y="316.9" width="1.0" height="6.7" fill="#777"/><rect x="320.5" y="317.2" width="1.0" height="6.4" fill="#555"/><rect x="321.7" y="317.0" width="1.0" height="6.6" fill="#888"/><rect x="322.9" y="317.7" width="1.0" height="5.9" fill="#666"/><rect x="324.1" y="317.2" width="1.0" height="6.4" fill="#999"/><rect x="325.3" y="317.7" width="1.0" height="5.9" fill="#777"/><rect x="333.0" y="317.7" width="1.0" height="5.9" fill="#888"/><rect x="336.0" y="318.5" width="1.0" height="5.1" fill="#666"/><rect x="351.9" y="316.9" width="1.0" height="6.7" fill="#555"/><rect x="353.0" y="319.2" width="1.0" height="4.4" fill="#333"/><rect x="356.5" y="319.2" width="1.0" height="4.4" fill="#777"/><rect x="359.5" y="318.5" width="1.0" height="5.1" fill="#888"/><rect x="371.4" y="320.0" width="1.0" height="3.6" fill="#777"/><rect x="378.0" y="314.6" width="1.0" height="9.0" fill="#555"/></g>
<rect x="161.8" y="325.9" width="15.6" height="7.8" fill="#3b2f80"/>
<text x="163.55" y="332.1" font-size="6.6" fill="#f4f2fa" textLength="11.80" lengthAdjust="spacingAndGlyphs" stroke="#f4f2fa" stroke-width="0.05">ERG</text>
<rect x="180.0" y="327.9" width="8.6" height="4.4" fill="#3b2f80"/>
<rect x="188.3" y="325.5" width="1.7" height="9.0" fill="#3b2f80"/>
<line x1="189.5" y1="329.4" x2="482" y2="329.4" stroke="#6a68c0" stroke-width="0.8"/>
<line x1="482" y1="325.8" x2="482" y2="333.2" stroke="#6a68c0" stroke-width="0.9"/>
<path d="M194.2,328.2 L193.0,329.4 L194.2,330.6 M198.5,328.2 L197.3,329.4 L198.5,330.6 M202.9,328.2 L201.7,329.4 L202.9,330.6 M207.2,328.2 L206.0,329.4 L207.2,330.6 M211.6,328.2 L210.4,329.4 L211.6,330.6 M215.9,328.2 L214.7,329.4 L215.9,330.6 M220.3,328.2 L219.1,329.4 L220.3,330.6 M224.6,328.2 L223.4,329.4 L224.6,330.6 M229.0,328.2 L227.8,329.4 L229.0,330.6 M233.3,328.2 L232.1,329.4 L233.3,330.6 M237.7,328.2 L236.5,329.4 L237.7,330.6 M242.0,328.2 L240.8,329.4 L242.0,330.6 M246.4,328.2 L245.2,329.4 L246.4,330.6 M250.7,328.2 L249.5,329.4 L250.7,330.6 M255.1,328.2 L253.9,329.4 L255.1,330.6 M259.4,328.2 L258.2,329.4 L259.4,330.6 M263.8,328.2 L262.6,329.4 L263.8,330.6 M268.1,328.2 L266.9,329.4 L268.1,330.6 M272.5,328.2 L271.3,329.4 L272.5,330.6 M276.9,328.2 L275.7,329.4 L276.9,330.6 M281.2,328.2 L280.0,329.4 L281.2,330.6 M285.6,328.2 L284.4,329.4 L285.6,330.6 M289.9,328.2 L288.7,329.4 L289.9,330.6 M294.3,328.2 L293.1,329.4 L294.3,330.6 M298.6,328.2 L297.4,329.4 L298.6,330.6 M303.0,328.2 L301.8,329.4 L303.0,330.6 M307.3,328.2 L306.1,329.4 L307.3,330.6 M311.7,328.2 L310.5,329.4 L311.7,330.6 M316.0,328.2 L314.8,329.4 L316.0,330.6 M320.4,328.2 L319.2,329.4 L320.4,330.6 M324.7,328.2 L323.5,329.4 L324.7,330.6 M329.1,328.2 L327.9,329.4 L329.1,330.6 M333.4,328.2 L332.2,329.4 L333.4,330.6 M337.8,328.2 L336.6,329.4 L337.8,330.6 M342.1,328.2 L340.9,329.4 L342.1,330.6 M346.5,328.2 L345.3,329.4 L346.5,330.6 M350.8,328.2 L349.6,329.4 L350.8,330.6 M355.2,328.2 L354.0,329.4 L355.2,330.6 M359.5,328.2 L358.3,329.4 L359.5,330.6 M363.9,328.2 L362.7,329.4 L363.9,330.6 M368.2,328.2 L367.0,329.4 L368.2,330.6 M372.6,328.2 L371.4,329.4 L372.6,330.6 M376.9,328.2 L375.7,329.4 L376.9,330.6 M381.3,328.2 L380.1,329.4 L381.3,330.6 M385.6,328.2 L384.4,329.4 L385.6,330.6 M390.0,328.2 L388.8,329.4 L390.0,330.6 M394.3,328.2 L393.1,329.4 L394.3,330.6 M398.7,328.2 L397.5,329.4 L398.7,330.6 M403.0,328.2 L401.8,329.4 L403.0,330.6 M407.4,328.2 L406.2,329.4 L407.4,330.6 M411.7,328.2 L410.5,329.4 L411.7,330.6 M416.1,328.2 L414.9,329.4 L416.1,330.6 M420.4,328.2 L419.2,329.4 L420.4,330.6 M424.8,328.2 L423.6,329.4 L424.8,330.6 M429.1,328.2 L427.9,329.4 L429.1,330.6 M433.5,328.2 L432.3,329.4 L433.5,330.6 M437.8,328.2 L436.6,329.4 L437.8,330.6 M442.2,328.2 L441.0,329.4 L442.2,330.6 M446.5,328.2 L445.3,329.4 L446.5,330.6 M450.9,328.2 L449.7,329.4 L450.9,330.6 M455.2,328.2 L454.0,329.4 L455.2,330.6 M459.6,328.2 L458.4,329.4 L459.6,330.6 M463.9,328.2 L462.7,329.4 L463.9,330.6 M468.3,328.2 L467.1,329.4 L468.3,330.6 M472.6,328.2 L471.4,329.4 L472.6,330.6 M477.0,328.2 L475.8,329.4 L477.0,330.6" fill="none" stroke="#6a68c0" stroke-width="0.6"/>
<line x1="207.3" y1="326.2" x2="207.3" y2="334.2" stroke="#3b2f80" stroke-width="0.8"/>
<line x1="208.8" y1="326.2" x2="208.8" y2="334.2" stroke="#3b2f80" stroke-width="0.8"/>
<line x1="210.8" y1="326.2" x2="210.8" y2="334.2" stroke="#3b2f80" stroke-width="0.8"/>
<line x1="237.0" y1="326.2" x2="237.0" y2="334.2" stroke="#3b2f80" stroke-width="0.8"/>
<line x1="239.5" y1="326.2" x2="239.5" y2="334.2" stroke="#3b2f80" stroke-width="0.8"/>
<line x1="290.5" y1="326.2" x2="290.5" y2="334.2" stroke="#3b2f80" stroke-width="0.8"/>
<line x1="347.0" y1="326.2" x2="347.0" y2="334.2" stroke="#3b2f80" stroke-width="0.8"/>
<line x1="233.2" y1="325.8" x2="232.0" y2="333.8" stroke="#3b2f80" stroke-width="0.8"/>
<circle cx="426.4" cy="336.2" r="0.5" fill="#999"/>
<text x="232.15" y="345.2" font-size="7.8" fill="#222" textLength="33.20" lengthAdjust="spacingAndGlyphs" stroke="#222" stroke-width="0.05">Exons 3-7</text>
<path d="M210,345.5 V349.3 H292.5 V345.5" fill="none" stroke="#333" stroke-width="0.9"/>
<text x="232.15" y="359.5" font-size="7.8" fill="#222" textLength="33.20" lengthAdjust="spacingAndGlyphs" stroke="#222" stroke-width="0.05">Exons 3-9</text>
<path d="M206.3,358 V362.5 H292.5 V358" fill="none" stroke="#333" stroke-width="0.9"/>
<text x="27.15" y="349.8" font-size="7.8" fill="#222" textLength="44.45" lengthAdjust="spacingAndGlyphs" stroke="#222" stroke-width="0.05">Somatic ERG</text>
<text x="21.65" y="358.3" font-size="7.8" fill="#222" textLength="54.45" lengthAdjust="spacingAndGlyphs" stroke="#222" stroke-width="0.05">deletions in ALL</text>
<text x="19.85" y="378.4" font-size="8.0" fill="#3a4f3a" textLength="14.30" lengthAdjust="spacingAndGlyphs" stroke="#3a4f3a" stroke-width="0.04">HSC</text>
<path d="M116.0,384.4 H298.0 M299.3,384.4 H304.0 M305.3,384.4 H340.0 M341.3,384.4 H424.0 M425.3,384.4 H454.0 M455.3,384.4 H460.0 M461.3,384.4 H497.5" stroke="#3d5a3d" stroke-width="1.0" fill="none"/>
<path d="M117.7,384.9 L118.2,383.5 L118.2,381.4 L119.2,381.4 L119.3,383.5 L119.8,384.9 Z M170.1,384.9 L170.6,383.5 L170.7,380.9 L171.7,380.9 L171.8,383.5 L172.3,384.9 Z M171.4,384.9 L171.9,383.5 L172.0,382.4 L173.0,382.4 L173.1,383.5 L173.6,384.9 Z M179.7,384.9 L180.2,383.8 L180.3,383.4 L181.3,383.4 L181.4,383.8 L181.9,384.9 Z M190.0,384.9 L190.5,383.5 L190.6,382.4 L191.6,382.4 L191.7,383.5 L192.2,384.9 Z M196.6,384.9 L197.1,383.5 L197.2,371.6 L198.2,371.6 L198.2,383.5 L198.8,384.9 Z M232.9,384.9 L233.4,383.8 L233.5,383.4 L234.5,383.4 L234.6,383.8 L235.1,384.9 Z M240.2,384.9 L240.8,383.8 L240.8,383.4 L241.8,383.4 L241.9,383.8 L242.4,384.9 Z M402.0,384.9 L402.6,383.5 L402.6,380.4 L403.6,380.4 L403.7,383.5 L404.2,384.9 Z M411.1,384.9 L411.6,383.8 L411.7,383.4 L412.7,383.4 L412.8,383.8 L413.3,384.9 Z M424.8,384.9 L425.3,383.5 L425.4,366.9 L426.4,366.9 L426.4,383.5 L427.0,384.9 Z M425.9,384.9 L426.4,383.5 L426.5,374.4 L427.5,374.4 L427.6,383.5 L428.1,384.9 Z M427.2,384.9 L427.8,383.5 L427.8,378.9 L428.8,378.9 L428.9,383.5 L429.4,384.9 Z M454.5,384.9 L455.1,383.8 L455.1,383.4 L456.1,383.4 L456.2,383.8 L456.7,384.9 Z M471.7,384.9 L472.2,383.8 L472.3,383.4 L473.3,383.4 L473.4,383.8 L473.9,384.9 Z M472.9,384.9 L473.4,383.8 L473.5,383.4 L474.5,383.4 L474.6,383.8 L475.1,384.9 Z M481.4,384.9 L481.9,383.5 L482.0,377.6 L483.0,377.6 L483.1,383.5 L483.6,384.9 Z M482.4,384.9 L482.9,383.5 L483.0,381.4 L484.0,381.4 L484.1,383.5 L484.6,384.9 Z" fill="#3d5a3d"/>
<text x="19.85" y="398.3" font-size="8.0" fill="#4a7a3a" textLength="15.90" lengthAdjust="spacingAndGlyphs" stroke="#4a7a3a" stroke-width="0.04">MPP</text>
<path d="M116.0,404.4 H196.0 M197.3,404.4 H202.0 M203.3,404.4 H298.0 M299.3,404.4 H322.0 M323.3,404.4 H352.0 M353.3,404.4 H454.0 M455.3,404.4 H497.5" stroke="#6a9a4a" stroke-width="1.0" fill="none"/>
<path d="M117.7,404.9 L118.2,403.5 L118.2,401.4 L119.2,401.4 L119.3,403.5 L119.8,404.9 Z M170.1,404.9 L170.6,403.5 L170.7,401.0 L171.7,401.0 L171.8,403.5 L172.3,404.9 Z M179.7,404.9 L180.2,403.8 L180.3,403.4 L181.3,403.4 L181.4,403.8 L181.9,404.9 Z M190.0,404.9 L190.5,403.5 L190.6,402.2 L191.6,402.2 L191.7,403.5 L192.2,404.9 Z M196.6,404.9 L197.1,403.5 L197.2,393.4 L198.2,393.4 L198.2,403.5 L198.8,404.9 Z M232.9,404.9 L233.4,403.8 L233.5,403.4 L234.5,403.4 L234.6,403.8 L235.1,404.9 Z M402.0,404.9 L402.6,403.5 L402.6,400.4 L403.6,400.4 L403.7,403.5 L404.2,404.9 Z M411.1,404.9 L411.6,403.8 L411.7,403.4 L412.7,403.4 L412.8,403.8 L413.3,404.9 Z M424.8,404.9 L425.3,403.5 L425.4,387.4 L426.4,387.4 L426.4,403.5 L427.0,404.9 Z M425.9,404.9 L426.4,403.5 L426.5,395.4 L427.5,395.4 L427.6,403.5 L428.1,404.9 Z M427.2,404.9 L427.8,403.5 L427.8,399.4 L428.8,399.4 L428.9,403.5 L429.4,404.9 Z M454.5,404.9 L455.1,403.8 L455.1,403.4 L456.1,403.4 L456.2,403.8 L456.7,404.9 Z M481.4,404.9 L481.9,403.5 L482.0,400.4 L483.0,400.4 L483.1,403.5 L483.6,404.9 Z" fill="#6a9a4a"/>
<text x="19.85" y="417.7" font-size="8.0" fill="#4a9a94" textLength="19.70" lengthAdjust="spacingAndGlyphs" stroke="#4a9a94" stroke-width="0.04">LMPP</text>
<path d="M116.0,424.4 H310.0 M311.3,424.4 H322.0 M323.3,424.4 H364.0 M365.3,424.4 H370.0 M371.3,424.4 H430.0 M431.3,424.4 H436.0 M437.3,424.4 H497.5" stroke="#4a9f9c" stroke-width="1.0" fill="none"/>
<path d="M117.7,424.9 L118.2,423.5 L118.2,422.4 L119.2,422.4 L119.3,423.5 L119.8,424.9 Z M169.3,424.9 L169.8,423.5 L169.9,422.4 L170.9,422.4 L171.0,423.5 L171.5,424.9 Z M172.4,424.9 L172.9,423.5 L173.0,422.4 L174.0,422.4 L174.1,423.5 L174.6,424.9 Z M179.7,424.9 L180.2,423.5 L180.3,421.7 L181.3,421.7 L181.4,423.5 L181.9,424.9 Z M190.0,424.9 L190.5,423.5 L190.6,422.9 L191.6,422.9 L191.7,423.5 L192.2,424.9 Z M196.6,424.9 L197.1,423.5 L197.2,411.8 L198.2,411.8 L198.2,423.5 L198.8,424.9 Z M240.6,424.9 L241.1,423.5 L241.2,417.9 L242.2,417.9 L242.2,423.5 L242.8,424.9 Z M327.9,424.9 L328.4,423.8 L328.5,423.4 L329.5,423.4 L329.6,423.8 L330.1,424.9 Z M331.9,424.9 L332.4,423.8 L332.5,423.4 L333.5,423.4 L333.6,423.8 L334.1,424.9 Z M336.9,424.9 L337.4,423.8 L337.5,423.4 L338.5,423.4 L338.6,423.8 L339.1,424.9 Z M402.0,424.9 L402.6,423.5 L402.6,418.4 L403.6,418.4 L403.7,423.5 L404.2,424.9 Z M424.8,424.9 L425.3,423.5 L425.4,412.0 L426.4,412.0 L426.4,423.5 L427.0,424.9 Z M427.2,424.9 L427.8,423.5 L427.8,421.4 L428.8,421.4 L428.9,423.5 L429.4,424.9 Z M481.4,424.9 L481.9,423.5 L482.0,414.8 L483.0,414.8 L483.1,423.5 L483.6,424.9 Z" fill="#4a9f9c"/>
<text x="19.85" y="436.6" font-size="8.0" fill="#e8b88e" textLength="16.20" lengthAdjust="spacingAndGlyphs" stroke="#e8b88e" stroke-width="0.04">CMP</text>
<path d="M116.0,444.6 H160.0 M161.3,444.6 H166.0 M167.3,444.6 H184.0 M185.3,444.6 H196.0 M197.3,444.6 H244.0 M245.3,444.6 H298.0 M299.3,444.6 H497.5" stroke="#f0b888" stroke-width="1.0" fill="none"/>
<path d="M117.7,445.1 L118.2,444.0 L118.2,443.6 L119.2,443.6 L119.3,444.0 L119.8,445.1 Z M170.1,445.1 L170.6,443.7 L170.7,436.0 L171.7,436.0 L171.8,443.7 L172.3,445.1 Z M179.7,445.1 L180.2,443.7 L180.3,441.0 L181.3,441.0 L181.4,443.7 L181.9,445.1 Z M190.0,445.1 L190.5,443.7 L190.6,443.1 L191.6,443.1 L191.7,443.7 L192.2,445.1 Z M196.6,445.1 L197.1,443.7 L197.2,435.0 L198.2,435.0 L198.2,443.7 L198.8,445.1 Z M232.9,445.1 L233.4,444.0 L233.5,443.6 L234.5,443.6 L234.6,444.0 L235.1,445.1 Z M240.9,445.1 L241.4,444.0 L241.5,443.6 L242.5,443.6 L242.6,444.0 L243.1,445.1 Z M272.9,445.1 L273.4,444.0 L273.5,443.6 L274.5,443.6 L274.6,444.0 L275.1,445.1 Z M293.9,445.1 L294.4,444.0 L294.5,443.6 L295.5,443.6 L295.6,444.0 L296.1,445.1 Z M402.0,445.1 L402.6,443.7 L402.6,441.3 L403.6,441.3 L403.7,443.7 L404.2,445.1 Z M411.1,445.1 L411.6,443.7 L411.7,441.3 L412.7,441.3 L412.8,443.7 L413.3,445.1 Z M424.8,445.1 L425.3,443.7 L425.4,430.4 L426.4,430.4 L426.4,443.7 L427.0,445.1 Z M428.4,445.1 L428.9,443.7 L429.0,440.8 L430.0,440.8 L430.1,443.7 L430.6,445.1 Z M431.3,445.1 L431.8,443.7 L431.9,440.4 L432.9,440.4 L432.9,443.7 L433.5,445.1 Z M454.5,445.1 L455.1,444.0 L455.1,443.6 L456.1,443.6 L456.2,444.0 L456.7,445.1 Z M464.9,445.1 L465.4,444.0 L465.5,443.6 L466.5,443.6 L466.6,444.0 L467.1,445.1 Z M481.4,445.1 L481.9,443.7 L482.0,443.1 L483.0,443.1 L483.1,443.7 L483.6,445.1 Z" fill="#f0b888"/>
<text x="19.85" y="457.8" font-size="8.0" fill="#c89a3a" textLength="17.10" lengthAdjust="spacingAndGlyphs" stroke="#c89a3a" stroke-width="0.04">GMP</text>
<path d="M116.0,464.7 H142.0 M143.3,464.7 H334.0 M335.3,464.7 H370.0 M371.3,464.7 H394.0 M395.3,464.7 H436.0 M437.3,464.7 H466.0 M467.3,464.7 H497.5" stroke="#e0a83a" stroke-width="1.0" fill="none"/>
<path d="M117.8,465.2 L118.4,463.8 L118.4,461.7 L119.4,461.7 L119.5,463.8 L120.0,465.2 Z M169.5,465.2 L170.0,463.8 L170.1,462.5 L171.1,462.5 L171.2,463.8 L171.7,465.2 Z M173.6,465.2 L174.1,464.1 L174.2,463.7 L175.2,463.7 L175.2,464.1 L175.8,465.2 Z M179.5,465.2 L180.0,464.1 L180.1,463.7 L181.1,463.7 L181.2,464.1 L181.7,465.2 Z M191.1,465.2 L191.6,464.1 L191.7,463.7 L192.7,463.7 L192.8,464.1 L193.3,465.2 Z M196.5,465.2 L197.0,463.8 L197.1,457.1 L198.1,457.1 L198.2,463.8 L198.7,465.2 Z M234.2,465.2 L234.8,464.1 L234.8,463.7 L235.8,463.7 L235.9,464.1 L236.4,465.2 Z M240.9,465.2 L241.4,463.8 L241.5,460.4 L242.5,460.4 L242.6,463.8 L243.1,465.2 Z M273.2,465.2 L273.8,464.1 L273.8,463.7 L274.8,463.7 L274.9,464.1 L275.4,465.2 Z M332.5,465.2 L333.1,463.8 L333.1,463.2 L334.1,463.2 L334.2,463.8 L334.7,465.2 Z M354.0,465.2 L354.6,464.1 L354.6,463.7 L355.6,463.7 L355.7,464.1 L356.2,465.2 Z M401.9,465.2 L402.4,463.8 L402.5,460.1 L403.5,460.1 L403.6,463.8 L404.1,465.2 Z M411.2,465.2 L411.8,464.1 L411.8,463.7 L412.8,463.7 L412.9,464.1 L413.4,465.2 Z M425.0,465.2 L425.6,463.8 L425.6,457.7 L426.6,457.7 L426.7,463.8 L427.2,465.2 Z M431.2,465.2 L431.8,463.8 L431.8,462.7 L432.8,462.7 L432.9,463.8 L433.4,465.2 Z M451.3,465.2 L451.8,463.8 L451.9,461.7 L452.9,461.7 L452.9,463.8 L453.5,465.2 Z M471.7,465.2 L472.2,464.1 L472.3,463.7 L473.3,463.7 L473.4,464.1 L473.9,465.2 Z M482.1,465.2 L482.6,463.8 L482.7,461.7 L483.7,461.7 L483.8,463.8 L484.3,465.2 Z" fill="#e0a83a"/>
<text x="19.85" y="478.2" font-size="8.0" fill="#c03040" textLength="15.60" lengthAdjust="spacingAndGlyphs" stroke="#c03040" stroke-width="0.04">MEP</text>
<path d="M116.0,484.6 H280.0 M281.3,484.6 H298.0 M299.3,484.6 H358.0 M359.3,484.6 H364.0 M365.3,484.6 H376.0 M377.3,484.6 H412.0 M413.3,484.6 H497.5" stroke="#d04452" stroke-width="1.0" fill="none"/>
<path d="M117.8,485.1 L118.4,483.7 L118.4,481.4 L119.4,481.4 L119.5,483.7 L120.0,485.1 Z M170.1,485.1 L170.6,483.7 L170.7,475.2 L171.7,475.2 L171.8,483.7 L172.3,485.1 Z M179.5,485.1 L180.0,483.7 L180.1,480.8 L181.1,480.8 L181.2,483.7 L181.7,485.1 Z M191.1,485.1 L191.6,484.0 L191.7,483.6 L192.7,483.6 L192.8,484.0 L193.3,485.1 Z M196.5,485.1 L197.0,483.7 L197.1,479.2 L198.1,479.2 L198.2,483.7 L198.7,485.1 Z M234.2,485.1 L234.8,483.7 L234.8,482.6 L235.8,482.6 L235.9,483.7 L236.4,485.1 Z M240.9,485.1 L241.4,483.7 L241.5,482.6 L242.5,482.6 L242.6,483.7 L243.1,485.1 Z M292.0,485.1 L292.6,484.0 L292.6,483.6 L293.6,483.6 L293.7,484.0 L294.2,485.1 Z M328.4,485.1 L328.9,484.0 L329.0,483.6 L330.0,483.6 L330.1,484.0 L330.6,485.1 Z M333.8,485.1 L334.3,483.7 L334.4,482.2 L335.4,482.2 L335.4,483.7 L336.0,485.1 Z M354.6,485.1 L355.1,483.7 L355.2,483.1 L356.2,483.1 L356.2,483.7 L356.8,485.1 Z M401.9,485.1 L402.4,483.7 L402.5,482.6 L403.5,482.6 L403.6,483.7 L404.1,485.1 Z M411.2,485.1 L411.8,483.7 L411.8,482.6 L412.8,482.6 L412.9,483.7 L413.4,485.1 Z M425.0,485.1 L425.6,483.7 L425.6,471.9 L426.6,471.9 L426.7,483.7 L427.2,485.1 Z M427.3,485.1 L427.8,483.7 L427.9,482.3 L428.9,482.3 L428.9,483.7 L429.5,485.1 Z M454.3,485.1 L454.8,483.7 L454.9,478.8 L455.9,478.8 L455.9,483.7 L456.5,485.1 Z M482.1,485.1 L482.6,483.7 L482.7,483.1 L483.7,483.1 L483.8,483.7 L484.3,485.1 Z" fill="#d04452"/>
<text x="19.85" y="499.7" font-size="8.0" fill="#b8d4e4" textLength="13.60" lengthAdjust="spacingAndGlyphs" stroke="#b8d4e4" stroke-width="0.04">CLP</text>
<path d="M116.0,504.3 H130.0 M131.3,504.3 H190.0 M191.3,504.3 H328.0 M329.3,504.3 H364.0 M365.3,504.3 H376.0 M377.3,504.3 H448.0 M449.3,504.3 H497.5" stroke="#9cc4dc" stroke-width="1.0" fill="none"/>
<path d="M117.8,504.8 L118.4,503.4 L118.4,502.8 L119.4,502.8 L119.5,503.4 L120.0,504.8 Z M141.2,504.8 L141.8,503.7 L141.8,503.3 L142.8,503.3 L142.9,503.7 L143.4,504.8 Z M146.6,504.8 L147.1,503.7 L147.2,503.3 L148.2,503.3 L148.2,503.7 L148.8,504.8 Z M155.3,504.8 L155.8,503.4 L155.9,500.8 L156.9,500.8 L157.0,503.4 L157.5,504.8 Z M166.9,504.8 L167.4,503.4 L167.5,502.8 L168.5,502.8 L168.6,503.4 L169.1,504.8 Z M169.9,504.8 L170.4,503.4 L170.5,502.3 L171.5,502.3 L171.6,503.4 L172.1,504.8 Z M172.9,504.8 L173.4,503.4 L173.5,502.8 L174.5,502.8 L174.6,503.4 L175.1,504.8 Z M176.3,504.8 L176.8,503.4 L176.9,502.8 L177.9,502.8 L178.0,503.4 L178.5,504.8 Z M179.5,504.8 L180.0,503.4 L180.1,501.5 L181.1,501.5 L181.2,503.4 L181.7,504.8 Z M189.2,504.8 L189.8,503.7 L189.8,503.3 L190.8,503.3 L190.9,503.7 L191.4,504.8 Z M196.5,504.8 L197.0,503.4 L197.1,498.9 L198.1,498.9 L198.2,503.4 L198.7,504.8 Z M240.9,504.8 L241.4,503.4 L241.5,486.8 L242.5,486.8 L242.6,503.4 L243.1,504.8 Z M320.3,504.8 L320.8,503.4 L320.9,501.6 L321.9,501.6 L321.9,503.4 L322.5,504.8 Z M329.8,504.8 L330.3,503.4 L330.4,500.3 L331.4,500.3 L331.4,503.4 L332.0,504.8 Z M332.5,504.8 L333.1,503.4 L333.1,491.4 L334.1,491.4 L334.2,503.4 L334.7,504.8 Z M335.2,504.8 L335.8,503.4 L335.8,502.8 L336.8,502.8 L336.9,503.4 L337.4,504.8 Z M422.7,504.8 L423.2,503.4 L423.3,498.1 L424.3,498.1 L424.4,503.4 L424.9,504.8 Z M425.0,504.8 L425.6,503.4 L425.6,495.7 L426.6,495.7 L426.7,503.4 L427.2,504.8 Z M427.9,504.8 L428.4,503.4 L428.5,502.8 L429.5,502.8 L429.6,503.4 L430.1,504.8 Z M430.9,504.8 L431.4,503.4 L431.5,502.8 L432.5,502.8 L432.6,503.4 L433.1,504.8 Z M434.9,504.8 L435.4,503.4 L435.5,502.8 L436.5,502.8 L436.6,503.4 L437.1,504.8 Z M438.9,504.8 L439.4,503.7 L439.5,503.3 L440.5,503.3 L440.6,503.7 L441.1,504.8 Z M453.9,504.8 L454.4,503.4 L454.5,502.8 L455.5,502.8 L455.6,503.4 L456.1,504.8 Z M458.9,504.8 L459.4,503.4 L459.5,502.8 L460.5,502.8 L460.6,503.4 L461.1,504.8 Z M468.9,504.8 L469.4,503.4 L469.5,502.8 L470.5,502.8 L470.6,503.4 L471.1,504.8 Z M473.9,504.8 L474.4,503.4 L474.5,502.8 L475.5,502.8 L475.6,503.4 L476.1,504.8 Z M482.1,504.8 L482.6,503.4 L482.7,487.3 L483.7,487.3 L483.8,503.4 L484.3,504.8 Z" fill="#9cc4dc"/>
<text x="19.85" y="518.5" font-size="8.0" fill="#9a3a28" textLength="20.80" lengthAdjust="spacingAndGlyphs" stroke="#9a3a28" stroke-width="0.04">Mono</text>
<path d="M116.0,524.6 H142.0 M143.3,524.6 H148.0 M149.3,524.6 H154.0 M155.3,524.6 H202.0 M203.3,524.6 H220.0 M221.3,524.6 H358.0 M359.3,524.6 H497.5" stroke="#b85040" stroke-width="1.0" fill="none"/>
<path d="M117.8,525.1 L118.4,524.0 L118.4,523.6 L119.4,523.6 L119.5,524.0 L120.0,525.1 Z M169.5,525.1 L170.0,523.7 L170.1,520.6 L171.1,520.6 L171.2,523.7 L171.7,525.1 Z M196.5,525.1 L197.0,524.0 L197.1,523.6 L198.1,523.6 L198.2,524.0 L198.7,525.1 Z M332.5,525.1 L333.1,523.8 L333.1,523.2 L334.1,523.2 L334.2,523.8 L334.7,525.1 Z M401.9,525.1 L402.4,524.0 L402.5,523.6 L403.5,523.6 L403.6,524.0 L404.1,525.1 Z M410.9,525.1 L411.4,524.0 L411.5,523.6 L412.5,523.6 L412.6,524.0 L413.1,525.1 Z M424.9,525.1 L425.4,524.0 L425.5,523.6 L426.5,523.6 L426.6,524.0 L427.1,525.1 Z M451.3,525.1 L451.8,523.7 L451.9,519.3 L452.9,519.3 L452.9,523.7 L453.5,525.1 Z M453.9,525.1 L454.4,524.0 L454.5,523.6 L455.5,523.6 L455.6,524.0 L456.1,525.1 Z M468.9,525.1 L469.4,524.0 L469.5,523.6 L470.5,523.6 L470.6,524.0 L471.1,525.1 Z M478.9,525.1 L479.4,524.0 L479.5,523.6 L480.5,523.6 L480.6,524.0 L481.1,525.1 Z" fill="#b85040"/>
<text x="19.85" y="537.4" font-size="8.0" fill="#5a2a35" textLength="11.20" lengthAdjust="spacingAndGlyphs" stroke="#5a2a35" stroke-width="0.04">Ery</text>
<path d="M116.0,544.8 H136.0 M137.3,544.8 H250.0 M251.3,544.8 H298.0 M299.3,544.8 H304.0 M305.3,544.8 H352.0 M353.3,544.8 H424.0 M425.3,544.8 H497.5" stroke="#a06070" stroke-width="1.0" fill="none"/>
<path d="M117.8,545.3 L118.4,544.2 L118.4,543.8 L119.4,543.8 L119.5,544.2 L120.0,545.3 Z M169.9,545.3 L170.4,544.3 L170.5,544.0 L171.5,544.0 L171.6,544.3 L172.1,545.3 Z M288.9,545.3 L289.4,544.3 L289.5,544.0 L290.5,544.0 L290.6,544.3 L291.1,545.3 Z M450.9,545.3 L451.4,544.3 L451.5,544.0 L452.5,544.0 L452.6,544.3 L453.1,545.3 Z" fill="#a06070"/>
<text x="19.85" y="558.8" font-size="8.0" fill="#4a7ab8" textLength="34.30" lengthAdjust="spacingAndGlyphs" stroke="#4a7ab8" stroke-width="0.04">CD4_Tcell</text>
<path d="M116.0,564.9 H202.0 M203.3,564.9 H214.0 M215.3,564.9 H238.0 M239.3,564.9 H328.0 M329.3,564.9 H370.0 M371.3,564.9 H448.0 M449.3,564.9 H497.5" stroke="#82b2d8" stroke-width="1.0" fill="none"/>
<path d="M117.8,565.4 L118.4,564.3 L118.4,563.9 L119.4,563.9 L119.5,564.3 L120.0,565.4 Z" fill="#82b2d8"/>
<text x="19.85" y="578.6" font-size="8.0" fill="#4a4a80" textLength="34.30" lengthAdjust="spacingAndGlyphs" stroke="#4a4a80" stroke-width="0.04">CD8_Tcell</text>
<path d="M116.0,585.3 H130.0 M131.3,585.3 H160.0 M161.3,585.3 H304.0 M305.3,585.3 H316.0 M317.3,585.3 H376.0 M377.3,585.3 H382.0 M383.3,585.3 H497.5" stroke="#7a7cb8" stroke-width="1.0" fill="none"/>
<path d="M117.8,585.8 L118.4,584.9 L118.4,584.7 L119.4,584.7 L119.5,584.9 L120.0,585.8 Z" fill="#7a7cb8"/>
<text x="19.85" y="598.8" font-size="8.0" fill="#3a2a48" textLength="22.00" lengthAdjust="spacingAndGlyphs" stroke="#3a2a48" stroke-width="0.04">NKcell</text>
<path d="M116.0,604.9 H160.0 M161.3,604.9 H232.0 M233.3,604.9 H286.0 M287.3,604.9 H340.0 M341.3,604.9 H400.0 M401.3,604.9 H448.0 M449.3,604.9 H497.5" stroke="#8a6890" stroke-width="1.0" fill="none"/>
<path d="M169.5,605.4 L170.0,604.3 L170.1,603.9 L171.1,603.9 L171.2,604.3 L171.7,605.4 Z" fill="#8a6890"/>
<text x="19.85" y="618.2" font-size="8.0" fill="#c8b0d8" textLength="16.60" lengthAdjust="spacingAndGlyphs" stroke="#c8b0d8" stroke-width="0.04">Bcell</text>
<path d="M116.0,624.9 H214.0 M215.3,624.9 H226.0 M227.3,624.9 H238.0 M239.3,624.9 H250.0 M251.3,624.9 H322.0 M323.3,624.9 H418.0 M419.3,624.9 H497.5" stroke="#d8c0e4" stroke-width="1.0" fill="none"/>
<text x="19.85" y="645.8" font-size="8.0" fill="#303048" textLength="49.30" lengthAdjust="spacingAndGlyphs" stroke="#303048" stroke-width="0.05">Mammal Cons</text>
<text x="103.05" y="634.0" font-family="Liberation Serif, serif" font-size="8.6" fill="#222" textLength="4.80" lengthAdjust="spacingAndGlyphs" stroke="#222" stroke-width="0.1">4</text>
<line x1="110.2" y1="631.3" x2="113.2" y2="631.3" stroke="#222" stroke-width="0.9"/>
<text x="99.55" y="655.1" font-family="Liberation Serif, serif" font-size="8.2" fill="#8a7a84" textLength="7.00" lengthAdjust="spacingAndGlyphs" stroke="#8a7a84" stroke-width="0.05">-4</text>
<line x1="108.7" y1="655.4" x2="113.1" y2="655.4" stroke="#8a7a84" stroke-width="0.9"/>
<path d="M116.0,641.4 L116.8,641.7 L117.6,641.5 L118.4,641.8 L119.2,641.8 L120.0,641.2 L120.8,641.1 L121.6,642.0 L122.4,641.4 L123.2,641.4 L124.0,642.2 L124.8,641.6 L125.6,642.0 L126.4,641.6 L127.2,641.8 L128.0,641.3 L128.8,641.8 L129.6,642.1 L130.4,641.7 L131.2,641.9 L132.0,641.8 L132.8,641.2 L133.6,641.9 L134.4,641.8 L135.2,641.4 L136.0,641.1 L136.8,642.1 L137.6,641.6 L138.4,641.9 L139.2,642.1 L140.0,641.9 L140.8,642.1 L141.6,641.5 L142.4,642.0 L143.2,641.6 L144.0,642.1 L144.8,642.1 L145.6,641.2 L146.4,641.2 L147.2,641.3 L148.0,642.2 L148.8,641.6 L149.6,641.8 L150.4,641.4 L151.2,641.7 L152.0,641.5 L152.8,641.5 L153.6,641.7 L154.4,641.7 L155.2,642.1 L156.0,641.9 L156.8,642.1 L157.6,642.0 L158.4,642.2 L159.2,641.8 L160.0,641.3 L160.8,642.0 L161.6,642.2 L162.4,642.1 L163.2,641.7 L164.0,641.9 L164.8,641.3 L165.6,642.0 L166.4,641.7 L167.2,641.4 L168.0,641.2 L168.8,642.0 L169.6,642.2 L170.4,641.2 L171.2,642.0 L172.0,641.6 L172.8,641.3 L173.6,641.4 L174.4,641.9 L175.2,642.1 L176.0,641.1 L176.8,641.8 L177.6,641.1 L178.4,641.9 L179.2,641.5 L180.0,642.1 L180.8,642.2 L181.6,641.7 L182.4,642.2 L183.2,641.4 L184.0,641.2 L184.8,641.8 L185.6,641.1 L186.4,641.3 L187.2,641.5 L188.0,641.8 L188.8,641.3 L189.6,641.1 L190.4,642.1 L191.2,641.4 L192.0,642.2 L192.8,642.1 L193.6,641.5 L194.4,641.6 L195.2,641.7 L196.0,641.8 L196.8,641.8 L197.6,641.7 L198.4,641.8 L199.2,642.1 L200.0,641.7 L200.8,641.6 L201.6,641.9 L202.4,641.4 L203.2,641.4 L204.0,642.2 L204.8,641.7 L205.6,641.7 L206.4,641.1 L207.2,641.6 L208.0,641.7 L208.8,641.1 L209.6,641.8 L210.4,641.8 L211.2,641.2 L212.0,641.8 L212.8,641.6 L213.6,641.8 L214.4,641.5 L215.2,641.9 L216.0,641.9 L216.8,641.1 L217.6,641.2 L218.4,641.8 L219.2,642.2 L220.0,641.4 L220.8,641.6 L221.6,641.8 L222.4,641.5 L223.2,641.5 L224.0,641.4 L224.8,641.5 L225.6,641.8 L226.4,641.4 L227.2,641.5 L228.0,641.9 L228.8,641.1 L229.6,641.7 L230.4,641.9 L231.2,641.4 L232.0,641.3 L232.8,642.0 L233.6,641.4 L234.4,641.3 L235.2,641.6 L236.0,641.9 L236.8,641.2 L237.6,641.5 L238.4,641.5 L239.2,642.0 L240.0,641.6 L240.8,642.0 L241.6,641.3 L242.4,641.5 L243.2,641.8 L244.0,642.1 L244.8,641.6 L245.6,641.3 L246.4,641.2 L247.2,641.7 L248.0,641.3 L248.8,642.0 L249.6,642.0 L250.4,641.3 L251.2,641.4 L252.0,642.0 L252.8,641.8 L253.6,642.0 L254.4,641.5 L255.2,641.2 L256.0,641.4 L256.8,642.0 L257.6,641.4 L258.4,641.5 L259.2,641.6 L260.0,641.6 L260.8,641.6 L261.6,642.1 L262.4,641.3 L263.2,641.1 L264.0,642.1 L264.8,642.1 L265.6,642.2 L266.4,641.6 L267.2,642.1 L268.0,642.1 L268.8,641.3 L269.6,641.9 L270.4,642.0 L271.2,641.8 L272.0,641.7 L272.8,641.4 L273.6,641.5 L274.4,641.4 L275.2,641.2 L276.0,641.7 L276.8,641.4 L277.6,642.0 L278.4,641.1 L279.2,642.1 L280.0,641.9 L280.8,642.1 L281.6,642.1 L282.4,642.1 L283.2,641.7 L284.0,641.1 L284.8,641.9 L285.6,641.3 L286.4,641.4 L287.2,641.8 L288.0,641.7 L288.8,641.6 L289.6,642.1 L290.4,641.8 L291.2,641.5 L292.0,641.4 L292.8,642.0 L293.6,641.6 L294.4,642.0 L295.2,641.5 L296.0,641.3 L296.8,641.7 L297.6,642.0 L298.4,641.3 L299.2,642.0 L300.0,642.1 L300.8,642.0 L301.6,642.0 L302.4,641.1 L303.2,641.8 L304.0,642.0 L304.8,641.2 L305.6,641.4 L306.4,641.4 L307.2,641.7 L308.0,641.6 L308.8,641.6 L309.6,642.0 L310.4,641.1 L311.2,641.2 L312.0,641.2 L312.8,641.2 L313.6,641.2 L314.4,642.2 L315.2,642.0 L316.0,641.2 L316.8,641.7 L317.6,641.4 L318.4,641.4 L319.2,641.5 L320.0,641.8 L320.8,641.7 L321.6,641.5 L322.4,641.3 L323.2,641.5 L324.0,641.2 L324.8,641.7 L325.6,641.9 L326.4,641.5 L327.2,641.2 L328.0,641.3 L328.8,641.5 L329.6,641.8 L330.4,642.0 L331.2,641.5 L332.0,642.0 L332.8,641.8 L333.6,641.6 L334.4,641.5 L335.2,641.6 L336.0,641.9 L336.8,641.6 L337.6,641.9 L338.4,641.6 L339.2,641.4 L340.0,641.7 L340.8,641.9 L341.6,641.2 L342.4,641.6 L343.2,641.6 L344.0,642.1 L344.8,642.1 L345.6,641.5 L346.4,642.1 L347.2,642.0 L348.0,641.4 L348.8,641.6 L349.6,641.2 L350.4,642.0 L351.2,641.8 L352.0,642.1 L352.8,642.0 L353.6,641.8 L354.4,641.9 L355.2,641.7 L356.0,641.2 L356.8,641.7 L357.6,641.1 L358.4,641.3 L359.2,642.0 L360.0,641.1 L360.8,641.2 L361.6,641.2 L362.4,642.1 L363.2,641.3 L364.0,641.1 L364.8,642.0 L365.6,641.2 L366.4,642.0 L367.2,641.8 L368.0,642.0 L368.8,642.1 L369.6,641.7 L370.4,642.0 L371.2,641.1 L372.0,641.9 L372.8,641.7 L373.6,641.9 L374.4,641.2 L375.2,641.9 L376.0,642.1 L376.8,641.2 L377.6,641.5 L378.4,641.7 L379.2,642.0 L380.0,641.4 L380.8,641.3 L381.6,641.4 L382.4,641.8 L383.2,641.9 L384.0,641.5 L384.8,641.5 L385.6,641.5 L386.4,641.5 L387.2,641.6 L388.0,641.2 L388.8,641.7 L389.6,642.2 L390.4,641.6 L391.2,641.9 L392.0,641.3 L392.8,641.9 L393.6,641.9 L394.4,641.8 L395.2,641.7 L396.0,641.6 L396.8,641.8 L397.6,642.1 L398.4,641.3 L399.2,641.2 L400.0,641.9 L400.8,642.1 L401.6,641.7 L402.4,641.6 L403.2,641.9 L404.0,641.3 L404.8,641.4 L405.6,641.3 L406.4,641.7 L407.2,641.4 L408.0,641.4 L408.8,641.9 L409.6,642.1 L410.4,641.4 L411.2,641.9 L412.0,641.6 L412.8,642.0 L413.6,641.7 L414.4,641.4 L415.2,641.3 L416.0,641.1 L416.8,641.6 L417.6,641.5 L418.4,641.3 L419.2,641.5 L420.0,641.5 L420.8,642.0 L421.6,641.3 L422.4,642.2 L423.2,641.6 L424.0,641.8 L424.8,641.6 L425.6,642.0 L426.4,642.0 L427.2,641.7 L428.0,641.6 L428.8,641.9 L429.6,642.0 L430.4,641.5 L431.2,641.9 L432.0,642.2 L432.8,641.6 L433.6,641.4 L434.4,641.4 L435.2,641.9 L436.0,641.8 L436.8,642.2 L437.6,642.0 L438.4,641.4 L439.2,641.3 L440.0,641.4 L440.8,641.3 L441.6,641.9 L442.4,642.0 L443.2,642.1 L444.0,641.4 L444.8,642.1 L445.6,641.4 L446.4,641.6 L447.2,641.9 L448.0,641.2 L448.8,641.2 L449.6,642.0 L450.4,641.4 L451.2,641.5 L452.0,641.7 L452.8,641.8 L453.6,641.1 L454.4,641.5 L455.2,641.6 L456.0,641.6 L456.8,641.3 L457.6,641.7 L458.4,642.2 L459.2,641.5 L460.0,641.7 L460.8,641.2 L461.6,641.4 L462.4,641.8 L463.2,641.2 L464.0,642.1 L464.8,642.1 L465.6,641.2 L466.4,642.1 L467.2,641.5 L468.0,641.9 L468.8,641.9 L469.6,641.4 L470.4,641.8 L471.2,641.8 L472.0,642.0 L472.8,641.4 L473.6,641.9 L474.4,642.2 L475.2,641.8 L476.0,641.7 L476.8,641.2 L477.6,641.6 L478.4,641.5 L479.2,641.9 L480.0,641.8 L480.8,641.7 L481.6,641.3 L482.4,641.8 L483.2,641.8 L484.0,641.3 L484.8,642.1 L485.6,641.8 L486.4,641.2 L487.2,642.1 L488.0,641.3 L488.8,641.5 L489.6,641.9 L490.4,641.8 L491.2,641.7 L492.0,641.8 L492.8,641.6 L493.6,641.4 L494.4,641.3 L495.2,641.2" stroke="#8a5048" stroke-width="0.9" fill="none"/>
<path d="M184.1,641.6 L184.7,635.8 L185.3,635.8 L185.9,641.6 Z M187.0,641.6 L187.6,635.8 L188.2,635.8 L188.8,641.6 Z M188.3,641.6 L188.9,637.6 L189.5,637.6 L190.1,641.6 Z M190.8,641.6 L191.4,639.6 L192.0,639.6 L192.6,641.6 Z M192.8,641.6 L193.4,639.6 L194.0,639.6 L194.6,641.6 Z M159.1,641.6 L159.7,640.6 L160.3,640.6 L160.9,641.6 Z M230.1,641.6 L230.7,638.6 L231.3,638.6 L231.9,641.6 Z M237.9,641.6 L238.5,636.6 L239.1,636.6 L239.7,641.6 Z M269.1,641.6 L269.7,640.4 L270.3,640.4 L270.9,641.6 Z M320.1,641.6 L320.7,639.6 L321.3,639.6 L321.9,641.6 Z M345.1,641.6 L345.7,636.6 L346.3,636.6 L346.9,641.6 Z M346.1,641.6 L346.7,638.6 L347.3,638.6 L347.9,641.6 Z M354.9,641.6 L355.5,639.6 L356.1,639.6 L356.7,641.6 Z M362.6,641.6 L363.2,639.6 L363.8,639.6 L364.4,641.6 Z M372.1,641.6 L372.7,639.6 L373.3,639.6 L373.9,641.6 Z M425.3,641.6 L425.9,634.6 L426.5,634.6 L427.1,641.6 Z M456.1,641.6 L456.7,638.6 L457.3,638.6 L457.9,641.6 Z M458.1,641.6 L458.7,639.1 L459.3,639.1 L459.9,641.6 Z M480.6,641.6 L481.2,633.6 L481.8,633.6 L482.4,641.6 Z M482.1,641.6 L482.7,637.6 L483.3,637.6 L483.9,641.6 Z M485.1,641.6 L485.7,640.1 L486.3,640.1 L486.9,641.6 Z M494.1,641.6 L494.7,640.1 L495.3,640.1 L495.9,641.6 Z" fill="#33337a"/>
</g>
<g shape-rendering="crispEdges">
<rect x="0" y="1" width="1" height="664" fill="#080808"/><rect x="1" y="1" width="1" height="662" fill="#a8a8a8"/>
<rect x="0" y="0" width="520" height="1" fill="#4a4a4a"/><rect x="1" y="1" width="517" height="1" fill="#b4b4b4"/>
<rect x="517" y="1" width="1" height="662" fill="#ececec"/><rect x="518" y="1" width="1" height="663" fill="#9a9a9a"/><rect x="519" y="0" width="1" height="665" fill="#4a4a4a"/>
<rect x="2" y="662" width="515" height="1" fill="#f0f0f0"/><rect x="1" y="663" width="518" height="1" fill="#9a9a9a"/><rect x="0" y="664" width="520" height="1" fill="#4a4a4a"/>
</g>
</svg></body></html>
